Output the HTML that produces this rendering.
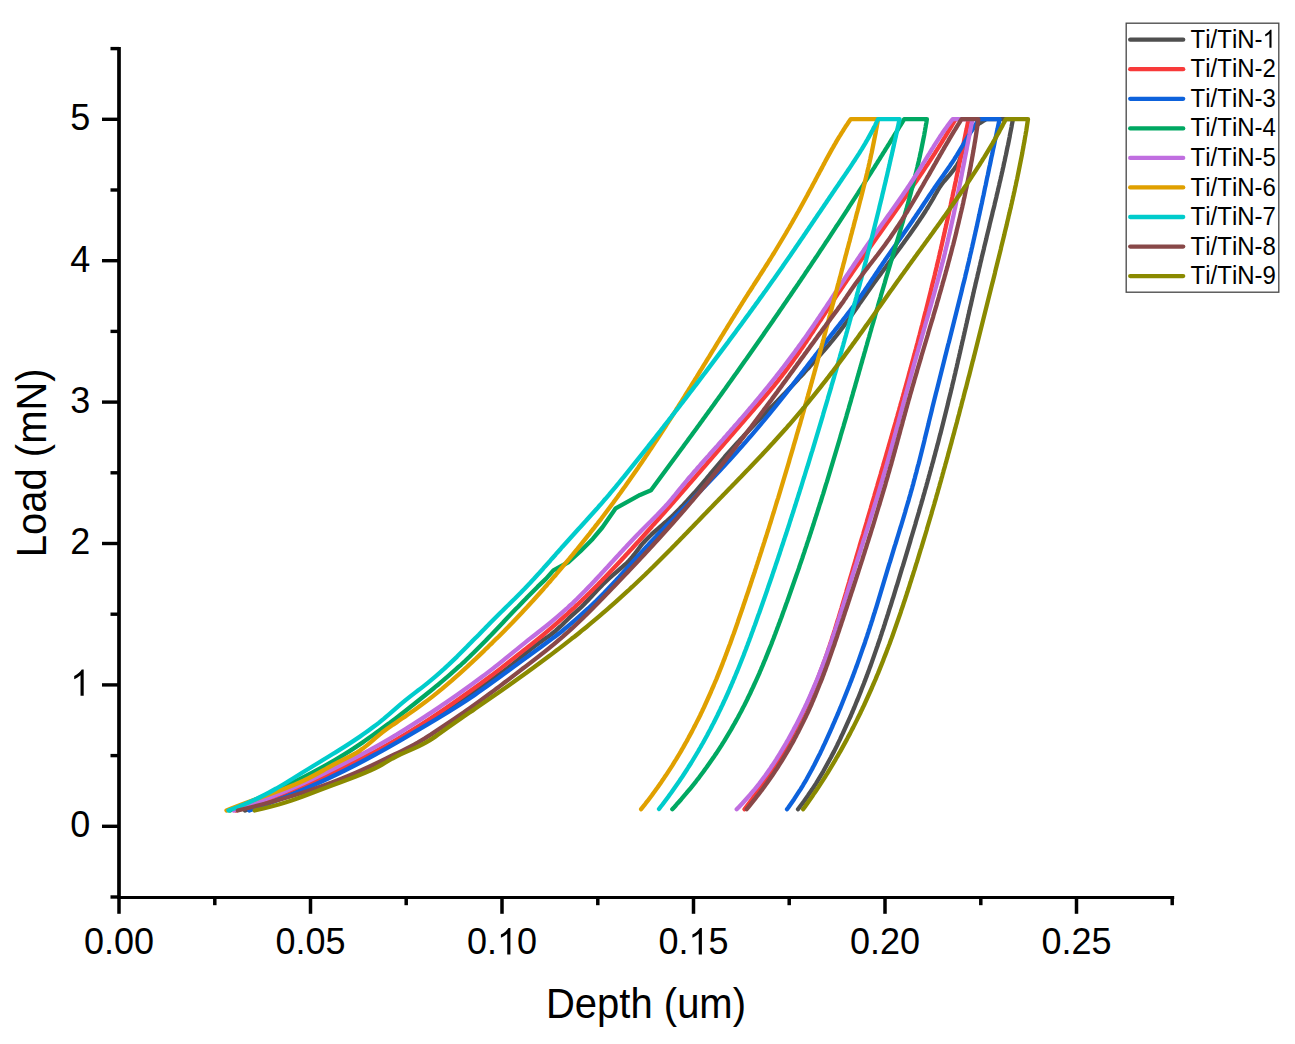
<!DOCTYPE html>
<html><head><meta charset="utf-8"><title>Load-Depth</title>
<style>html,body{margin:0;padding:0;background:#fff;}body{width:1295px;height:1044px;overflow:hidden;font-family:"Liberation Sans",sans-serif;}svg{display:block;}text{font-kerning:none;}</style>
</head><body>
<svg width="1295" height="1044" viewBox="0 0 1295 1044">
<g fill="none" stroke-width="4.3" stroke-linejoin="round" stroke-linecap="round">
<path stroke="#4f4f4f" d="M245.0,810.5 L250.5,808.5 L255.9,806.5 L261.3,804.5 L266.5,802.5 L271.7,800.5 L276.8,798.5 L281.8,796.5 L286.7,794.5 L291.6,792.5 L296.4,790.5 L301.1,788.5 L305.7,786.5 L310.3,784.5 L314.8,782.5 L319.3,780.5 L323.7,778.5 L328.0,776.5 L332.2,774.5 L336.5,772.5 L340.6,770.5 L344.7,768.5 L348.7,766.5 L352.7,764.5 L356.7,762.5 L360.5,760.5 L364.4,758.5 L368.2,756.5 L371.9,754.5 L375.7,752.6 L379.3,750.6 L383.0,748.6 L386.5,746.6 L390.1,744.6 L393.6,742.6 L397.1,740.6 L400.6,738.6 L404.0,736.6 L407.4,734.6 L410.8,732.6 L414.2,730.6 L417.5,728.6 L420.8,726.6 L424.1,724.6 L427.4,722.6 L430.6,720.6 L433.9,718.6 L437.1,716.6 L440.3,714.6 L443.4,712.6 L446.6,710.6 L449.7,708.6 L452.8,706.6 L455.9,704.6 L458.9,702.6 L462.0,700.6 L465.0,698.6 L467.9,696.6 L470.9,694.6 L473.8,692.6 L476.7,690.6 L479.6,688.6 L482.5,686.6 L485.3,684.6 L488.1,682.6 L490.8,680.6 L493.6,678.6 L496.3,676.6 L499.0,674.6 L501.7,672.6 L504.3,670.6 L506.9,668.6 L509.4,666.6 L512.0,664.6 L514.5,662.6 L517.0,660.6 L519.4,658.6 L521.8,656.6 L524.2,654.6 L526.6,652.6 L529.1,650.6 L531.6,648.6 L534.2,646.6 L536.9,644.6 L539.7,642.6 L542.5,640.6 L545.3,638.6 L548.0,636.7 L550.7,634.7 L553.2,632.7 L555.7,630.7 L557.9,628.7 L560.1,626.7 L562.2,624.7 L564.2,622.7 L566.3,620.7 L568.4,618.7 L570.6,616.7 L572.8,614.7 L575.1,612.7 L577.3,610.7 L579.5,608.7 L581.6,606.7 L583.6,604.7 L585.5,602.7 L587.5,600.7 L589.3,598.7 L591.2,596.7 L593.0,594.7 L594.9,592.7 L596.7,590.7 L598.6,588.7 L600.6,586.7 L602.5,584.7 L604.6,582.7 L606.7,580.7 L608.8,578.7 L611.1,576.7 L613.4,574.7 L615.8,572.7 L618.1,570.7 L620.4,568.7 L622.7,566.7 L624.9,564.7 L627.0,562.7 L629.0,560.7 L630.8,558.7 L632.5,556.7 L634.1,554.7 L635.6,552.7 L637.1,550.7 L638.6,548.7 L640.1,546.7 L641.7,544.7 L643.4,542.7 L645.2,540.7 L647.2,538.7 L649.2,536.7 L651.3,534.7 L653.5,532.7 L655.8,530.7 L658.1,528.7 L660.4,526.7 L662.7,524.7 L664.9,522.7 L667.1,520.8 L669.3,518.8 L671.5,516.8 L673.6,514.8 L675.6,512.8 L677.6,510.8 L679.6,508.8 L681.5,506.8 L683.5,504.8 L685.3,502.8 L687.2,500.8 L689.0,498.8 L690.8,496.8 L692.6,494.8 L694.4,492.8 L696.1,490.8 L697.8,488.8 L699.5,486.8 L701.2,484.8 L702.9,482.8 L704.6,480.8 L706.3,478.8 L707.9,476.8 L709.6,474.8 L711.2,472.8 L712.9,470.8 L714.6,468.8 L716.3,466.8 L718.0,464.8 L719.7,462.8 L721.4,460.8 L723.1,458.8 L724.8,456.8 L726.6,454.8 L728.4,452.8 L730.2,450.8 L732.0,448.8 L733.8,446.8 L735.6,444.8 L737.4,442.8 L739.3,440.8 L741.1,438.8 L743.0,436.8 L744.8,434.8 L746.7,432.8 L748.6,430.8 L750.5,428.8 L752.4,426.8 L754.3,424.8 L756.2,422.8 L758.1,420.8 L760.0,418.8 L761.9,416.8 L763.9,414.8 L765.8,412.8 L767.7,410.8 L769.6,408.8 L771.6,406.9 L773.5,404.9 L775.4,402.9 L777.4,400.9 L779.3,398.9 L781.2,396.9 L783.1,394.9 L785.1,392.9 L787.0,390.9 L788.9,388.9 L790.8,386.9 L792.7,384.9 L794.6,382.9 L796.5,380.9 L798.4,378.9 L800.2,376.9 L802.1,374.9 L804.0,372.9 L805.8,370.9 L807.6,368.9 L809.5,366.9 L811.3,364.9 L813.1,362.9 L814.9,360.9 L816.7,358.9 L818.4,356.9 L820.2,354.9 L821.9,352.9 L823.7,350.9 L825.4,348.9 L827.1,346.9 L828.8,344.9 L830.4,342.9 L832.1,340.9 L833.7,338.9 L835.3,336.9 L836.9,334.9 L838.5,332.9 L840.0,330.9 L841.5,328.9 L843.0,326.9 L844.5,324.9 L846.0,322.9 L847.5,320.9 L848.9,318.9 L850.3,316.9 L851.7,314.9 L853.1,312.9 L854.5,310.9 L855.9,308.9 L857.3,306.9 L858.7,304.9 L860.0,302.9 L861.4,300.9 L862.8,298.9 L864.2,296.9 L865.6,294.9 L867.0,292.9 L868.4,291.0 L869.8,289.0 L871.2,287.0 L872.6,285.0 L874.0,283.0 L875.5,281.0 L876.9,279.0 L878.4,277.0 L879.9,275.0 L881.3,273.0 L882.8,271.0 L884.3,269.0 L885.8,267.0 L887.2,265.0 L888.7,263.0 L890.2,261.0 L891.7,259.0 L893.2,257.0 L894.6,255.0 L896.1,253.0 L897.6,251.0 L899.1,249.0 L900.6,247.0 L902.0,245.0 L903.5,243.0 L904.9,241.0 L906.4,239.0 L907.8,237.0 L909.3,235.0 L910.7,233.0 L912.1,231.0 L913.5,229.0 L914.9,227.0 L916.3,225.0 L917.6,223.0 L919.0,221.0 L920.3,219.0 L921.7,217.0 L923.0,215.0 L924.3,213.0 L925.6,211.0 L926.8,209.0 L928.1,207.0 L929.3,205.0 L930.5,203.0 L931.7,201.0 L932.9,199.0 L934.0,197.0 L935.1,195.0 L936.3,193.0 L937.4,191.0 L938.6,189.0 L939.8,187.0 L941.2,185.0 L942.7,183.0 L944.3,181.0 L946.0,179.0 L947.7,177.0 L949.4,175.1 L951.0,173.1 L952.6,171.1 L954.2,169.1 L955.6,167.1 L956.9,165.1 L958.1,163.1 L959.1,161.1 L959.9,159.1 L960.6,157.1 L961.2,155.1 L961.8,153.1 L962.3,151.1 L962.8,149.1 L963.3,147.1 L963.8,145.1 L964.4,143.1 L965.1,141.1 L965.9,139.1 L966.9,137.1 L968.0,135.1 L969.3,133.1 L970.9,131.1 L972.7,129.1 L974.7,127.1 L977.1,125.1 L979.8,123.1 L982.9,121.1 L986.3,119.1 L986.3,119.1 L1012.9,119.1 L1012.9,119.1 L1012.6,121.1 L1012.2,123.1 L1011.8,125.1 L1011.5,127.1 L1011.1,129.1 L1010.7,131.1 L1010.3,133.1 L1009.9,135.1 L1009.6,137.1 L1009.2,139.0 L1008.8,141.0 L1008.4,143.0 L1008.0,145.0 L1007.5,147.0 L1007.1,149.0 L1006.7,151.0 L1006.3,153.0 L1005.9,155.0 L1005.4,157.0 L1005.0,159.0 L1004.6,161.0 L1004.1,163.0 L1003.7,165.0 L1003.3,167.0 L1002.8,169.0 L1002.4,171.0 L1001.9,173.0 L1001.5,174.9 L1001.0,176.9 L1000.6,178.9 L1000.1,180.9 L999.6,182.9 L999.2,184.9 L998.7,186.9 L998.2,188.9 L997.8,190.9 L997.3,192.9 L996.8,194.9 L996.4,196.9 L995.9,198.9 L995.4,200.9 L994.9,202.9 L994.5,204.9 L994.0,206.9 L993.5,208.9 L993.0,210.8 L992.5,212.8 L992.1,214.8 L991.6,216.8 L991.1,218.8 L990.6,220.8 L990.1,222.8 L989.6,224.8 L989.2,226.8 L988.7,228.8 L988.2,230.8 L987.7,232.8 L987.2,234.8 L986.7,236.8 L986.3,238.8 L985.8,240.8 L985.3,242.8 L984.8,244.8 L984.3,246.7 L983.9,248.7 L983.4,250.7 L982.9,252.7 L982.4,254.7 L981.9,256.7 L981.5,258.7 L981.0,260.7 L980.5,262.7 L980.1,264.7 L979.6,266.7 L979.1,268.7 L978.7,270.7 L978.2,272.7 L977.7,274.7 L977.3,276.7 L976.8,278.7 L976.3,280.7 L975.9,282.6 L975.4,284.6 L975.0,286.6 L974.5,288.6 L974.0,290.6 L973.6,292.6 L973.1,294.6 L972.7,296.6 L972.2,298.6 L971.8,300.6 L971.3,302.6 L970.9,304.6 L970.4,306.6 L969.9,308.6 L969.5,310.6 L969.0,312.6 L968.6,314.6 L968.1,316.6 L967.7,318.6 L967.2,320.5 L966.8,322.5 L966.3,324.5 L965.9,326.5 L965.4,328.5 L965.0,330.5 L964.5,332.5 L964.1,334.5 L963.6,336.5 L963.2,338.5 L962.7,340.5 L962.2,342.5 L961.8,344.5 L961.3,346.5 L960.9,348.5 L960.4,350.5 L960.0,352.5 L959.5,354.5 L959.1,356.4 L958.6,358.4 L958.1,360.4 L957.7,362.4 L957.2,364.4 L956.8,366.4 L956.3,368.4 L955.8,370.4 L955.4,372.4 L954.9,374.4 L954.4,376.4 L954.0,378.4 L953.5,380.4 L953.0,382.4 L952.5,384.4 L952.1,386.4 L951.6,388.4 L951.1,390.4 L950.7,392.3 L950.2,394.3 L949.7,396.3 L949.2,398.3 L948.7,400.3 L948.2,402.3 L947.8,404.3 L947.3,406.3 L946.8,408.3 L946.3,410.3 L945.8,412.3 L945.3,414.3 L944.8,416.3 L944.3,418.3 L943.8,420.3 L943.3,422.3 L942.8,424.3 L942.3,426.3 L941.8,428.2 L941.3,430.2 L940.8,432.2 L940.3,434.2 L939.7,436.2 L939.2,438.2 L938.7,440.2 L938.2,442.2 L937.7,444.2 L937.1,446.2 L936.6,448.2 L936.1,450.2 L935.5,452.2 L935.0,454.2 L934.5,456.2 L933.9,458.2 L933.4,460.2 L932.9,462.2 L932.3,464.1 L931.8,466.1 L931.2,468.1 L930.7,470.1 L930.1,472.1 L929.6,474.1 L929.0,476.1 L928.5,478.1 L927.9,480.1 L927.4,482.1 L926.8,484.1 L926.3,486.1 L925.7,488.1 L925.1,490.1 L924.6,492.1 L924.0,494.1 L923.4,496.1 L922.9,498.1 L922.3,500.1 L921.7,502.0 L921.2,504.0 L920.6,506.0 L920.0,508.0 L919.4,510.0 L918.9,512.0 L918.3,514.0 L917.7,516.0 L917.1,518.0 L916.5,520.0 L915.9,522.0 L915.4,524.0 L914.8,526.0 L914.2,528.0 L913.6,530.0 L913.0,532.0 L912.4,534.0 L911.8,536.0 L911.2,537.9 L910.6,539.9 L910.1,541.9 L909.5,543.9 L908.9,545.9 L908.3,547.9 L907.7,549.9 L907.1,551.9 L906.5,553.9 L905.9,555.9 L905.3,557.9 L904.7,559.9 L904.1,561.9 L903.5,563.9 L902.9,565.9 L902.2,567.9 L901.6,569.9 L901.0,571.9 L900.4,573.8 L899.8,575.8 L899.2,577.8 L898.6,579.8 L898.0,581.8 L897.4,583.8 L896.8,585.8 L896.1,587.8 L895.5,589.8 L894.9,591.8 L894.3,593.8 L893.7,595.8 L893.1,597.8 L892.4,599.8 L891.8,601.8 L891.2,603.8 L890.6,605.8 L889.9,607.8 L889.3,609.7 L888.7,611.7 L888.1,613.7 L887.4,615.7 L886.8,617.7 L886.1,619.7 L885.5,621.7 L884.9,623.7 L884.2,625.7 L883.6,627.7 L882.9,629.7 L882.2,631.7 L881.6,633.7 L880.9,635.7 L880.3,637.7 L879.6,639.7 L878.9,641.7 L878.2,643.7 L877.6,645.7 L876.9,647.6 L876.2,649.6 L875.5,651.6 L874.8,653.6 L874.1,655.6 L873.4,657.6 L872.7,659.6 L872.0,661.6 L871.3,663.6 L870.6,665.6 L869.8,667.6 L869.1,669.6 L868.4,671.6 L867.6,673.6 L866.9,675.6 L866.1,677.6 L865.4,679.6 L864.6,681.6 L863.9,683.5 L863.1,685.5 L862.3,687.5 L861.5,689.5 L860.8,691.5 L860.0,693.5 L859.2,695.5 L858.4,697.5 L857.6,699.5 L856.7,701.5 L855.9,703.5 L855.1,705.5 L854.3,707.5 L853.4,709.5 L852.6,711.5 L851.7,713.5 L850.9,715.5 L850.0,717.5 L849.1,719.4 L848.2,721.4 L847.3,723.4 L846.4,725.4 L845.5,727.4 L844.6,729.4 L843.7,731.4 L842.8,733.4 L841.8,735.4 L840.9,737.4 L840.0,739.4 L839.0,741.4 L838.0,743.4 L837.1,745.4 L836.1,747.4 L835.1,749.4 L834.1,751.4 L833.0,753.4 L832.0,755.3 L831.0,757.3 L829.9,759.3 L828.8,761.3 L827.7,763.3 L826.6,765.3 L825.5,767.3 L824.4,769.3 L823.3,771.3 L822.1,773.3 L820.9,775.3 L819.7,777.3 L818.5,779.3 L817.3,781.3 L816.1,783.3 L814.8,785.3 L813.5,787.3 L812.2,789.3 L810.9,791.2 L809.5,793.2 L808.2,795.2 L806.8,797.2 L805.4,799.2 L804.0,801.2 L802.5,803.2 L801.0,805.2 L799.5,807.2 L798.0,809.2"/>
<path stroke="#f83a3a" d="M236.0,810.5 L241.9,808.5 L247.6,806.5 L253.3,804.5 L258.9,802.5 L264.4,800.5 L269.8,798.5 L275.1,796.5 L280.4,794.5 L285.5,792.5 L290.6,790.5 L295.6,788.5 L300.5,786.5 L305.3,784.5 L310.1,782.5 L314.8,780.5 L319.4,778.5 L323.9,776.5 L328.4,774.5 L332.8,772.5 L337.1,770.5 L341.3,768.5 L345.5,766.5 L349.7,764.5 L353.7,762.5 L357.7,760.5 L361.7,758.5 L365.6,756.5 L369.4,754.5 L373.2,752.6 L376.9,750.6 L380.6,748.6 L384.2,746.6 L387.8,744.6 L391.3,742.6 L394.8,740.6 L398.2,738.6 L401.6,736.6 L404.9,734.6 L408.2,732.6 L411.5,730.6 L414.7,728.6 L417.9,726.6 L421.1,724.6 L424.2,722.6 L427.3,720.6 L430.4,718.6 L433.4,716.6 L436.4,714.6 L439.4,712.6 L442.4,710.6 L445.3,708.6 L448.2,706.6 L451.1,704.6 L454.0,702.6 L456.8,700.6 L459.7,698.6 L462.5,696.6 L465.3,694.6 L468.2,692.6 L470.9,690.6 L473.7,688.6 L476.5,686.6 L479.3,684.6 L482.0,682.6 L484.7,680.6 L487.4,678.6 L490.1,676.6 L492.7,674.6 L495.3,672.6 L497.9,670.6 L500.5,668.6 L503.0,666.6 L505.6,664.6 L508.1,662.6 L510.6,660.6 L513.2,658.6 L515.7,656.6 L518.2,654.6 L520.8,652.6 L523.3,650.6 L525.9,648.6 L528.4,646.6 L531.0,644.6 L533.5,642.6 L536.0,640.6 L538.5,638.6 L540.9,636.7 L543.4,634.7 L545.8,632.7 L548.2,630.7 L550.5,628.7 L552.9,626.7 L555.2,624.7 L557.5,622.7 L559.7,620.7 L562.0,618.7 L564.2,616.7 L566.5,614.7 L568.6,612.7 L570.8,610.7 L573.0,608.7 L575.1,606.7 L577.3,604.7 L579.4,602.7 L581.5,600.7 L583.5,598.7 L585.6,596.7 L587.6,594.7 L589.7,592.7 L591.7,590.7 L593.7,588.7 L595.7,586.7 L597.7,584.7 L599.6,582.7 L601.6,580.7 L603.5,578.7 L605.5,576.7 L607.4,574.7 L609.3,572.7 L611.2,570.7 L613.1,568.7 L615.0,566.7 L616.9,564.7 L618.8,562.7 L620.7,560.7 L622.5,558.7 L624.4,556.7 L626.2,554.7 L628.1,552.7 L629.9,550.7 L631.8,548.7 L633.6,546.7 L635.4,544.7 L637.2,542.7 L639.1,540.7 L640.9,538.7 L642.7,536.7 L644.5,534.7 L646.3,532.7 L648.1,530.7 L649.9,528.7 L651.7,526.7 L653.4,524.7 L655.2,522.7 L657.0,520.8 L658.8,518.8 L660.5,516.8 L662.3,514.8 L664.1,512.8 L665.8,510.8 L667.6,508.8 L669.4,506.8 L671.1,504.8 L672.9,502.8 L674.6,500.8 L676.4,498.8 L678.1,496.8 L679.8,494.8 L681.6,492.8 L683.3,490.8 L685.1,488.8 L686.8,486.8 L688.5,484.8 L690.3,482.8 L692.0,480.8 L693.8,478.8 L695.5,476.8 L697.2,474.8 L699.0,472.8 L700.7,470.8 L702.4,468.8 L704.2,466.8 L705.9,464.8 L707.6,462.8 L709.4,460.8 L711.1,458.8 L712.8,456.8 L714.6,454.8 L716.3,452.8 L718.0,450.8 L719.7,448.8 L721.5,446.8 L723.2,444.8 L724.9,442.8 L726.7,440.8 L728.4,438.8 L730.1,436.8 L731.9,434.8 L733.6,432.8 L735.3,430.8 L737.1,428.8 L738.8,426.8 L740.5,424.8 L742.3,422.8 L744.0,420.8 L745.7,418.8 L747.5,416.8 L749.2,414.8 L750.9,412.8 L752.7,410.8 L754.4,408.8 L756.1,406.9 L757.9,404.9 L759.6,402.9 L761.3,400.9 L763.0,398.9 L764.7,396.9 L766.4,394.9 L768.1,392.9 L769.8,390.9 L771.4,388.9 L773.1,386.9 L774.7,384.9 L776.3,382.9 L777.9,380.9 L779.4,378.9 L781.0,376.9 L782.5,374.9 L784.1,372.9 L785.6,370.9 L787.1,368.9 L788.5,366.9 L790.0,364.9 L791.5,362.9 L792.9,360.9 L794.3,358.9 L795.8,356.9 L797.2,354.9 L798.6,352.9 L800.0,350.9 L801.3,348.9 L802.7,346.9 L804.1,344.9 L805.4,342.9 L806.8,340.9 L808.1,338.9 L809.5,336.9 L810.8,334.9 L812.1,332.9 L813.5,330.9 L814.8,328.9 L816.1,326.9 L817.4,324.9 L818.7,322.9 L820.0,320.9 L821.4,318.9 L822.7,316.9 L824.0,314.9 L825.3,312.9 L826.6,310.9 L827.9,308.9 L829.2,306.9 L830.5,304.9 L831.8,302.9 L833.1,300.9 L834.5,298.9 L835.8,296.9 L837.1,294.9 L838.4,292.9 L839.8,291.0 L841.1,289.0 L842.5,287.0 L843.8,285.0 L845.2,283.0 L846.5,281.0 L847.9,279.0 L849.3,277.0 L850.7,275.0 L852.0,273.0 L853.4,271.0 L854.8,269.0 L856.2,267.0 L857.6,265.0 L859.0,263.0 L860.4,261.0 L861.8,259.0 L863.2,257.0 L864.6,255.0 L866.0,253.0 L867.4,251.0 L868.8,249.0 L870.2,247.0 L871.6,245.0 L873.0,243.0 L874.4,241.0 L875.8,239.0 L877.2,237.0 L878.7,235.0 L880.1,233.0 L881.5,231.0 L882.9,229.0 L884.3,227.0 L885.7,225.0 L887.1,223.0 L888.6,221.0 L890.0,219.0 L891.4,217.0 L892.8,215.0 L894.2,213.0 L895.6,211.0 L897.0,209.0 L898.4,207.0 L899.8,205.0 L901.2,203.0 L902.6,201.0 L904.0,199.0 L905.4,197.0 L906.8,195.0 L908.1,193.0 L909.5,191.0 L910.9,189.0 L912.3,187.0 L913.6,185.0 L915.0,183.0 L916.4,181.0 L917.7,179.0 L919.1,177.0 L920.4,175.1 L921.8,173.1 L923.1,171.1 L924.4,169.1 L925.7,167.1 L927.1,165.1 L928.4,163.1 L929.7,161.1 L931.0,159.1 L932.3,157.1 L933.6,155.1 L934.9,153.1 L936.1,151.1 L937.4,149.1 L938.7,147.1 L939.9,145.1 L941.2,143.1 L942.4,141.1 L943.6,139.1 L944.9,137.1 L946.1,135.1 L947.3,133.1 L948.5,131.1 L949.7,129.1 L950.9,127.1 L952.0,125.1 L953.2,123.1 L954.4,121.1 L955.5,119.1 L955.5,119.1 L968.6,119.1 L968.6,119.1 L968.2,121.1 L967.8,123.1 L967.4,125.1 L967.0,127.1 L966.6,129.1 L966.1,131.1 L965.7,133.1 L965.3,135.1 L964.9,137.1 L964.5,139.0 L964.1,141.0 L963.7,143.0 L963.3,145.0 L962.8,147.0 L962.4,149.0 L962.0,151.0 L961.6,153.0 L961.2,155.0 L960.8,157.0 L960.4,159.0 L959.9,161.0 L959.5,163.0 L959.1,165.0 L958.7,167.0 L958.3,169.0 L957.9,171.0 L957.4,173.0 L957.0,174.9 L956.6,176.9 L956.2,178.9 L955.8,180.9 L955.3,182.9 L954.9,184.9 L954.5,186.9 L954.1,188.9 L953.6,190.9 L953.2,192.9 L952.8,194.9 L952.4,196.9 L951.9,198.9 L951.5,200.9 L951.1,202.9 L950.7,204.9 L950.2,206.9 L949.8,208.9 L949.4,210.8 L948.9,212.8 L948.5,214.8 L948.0,216.8 L947.6,218.8 L947.2,220.8 L946.7,222.8 L946.3,224.8 L945.8,226.8 L945.4,228.8 L944.9,230.8 L944.5,232.8 L944.0,234.8 L943.6,236.8 L943.1,238.8 L942.7,240.8 L942.2,242.8 L941.8,244.8 L941.3,246.7 L940.9,248.7 L940.4,250.7 L939.9,252.7 L939.5,254.7 L939.0,256.7 L938.6,258.7 L938.1,260.7 L937.6,262.7 L937.1,264.7 L936.7,266.7 L936.2,268.7 L935.7,270.7 L935.2,272.7 L934.8,274.7 L934.3,276.7 L933.8,278.7 L933.3,280.7 L932.8,282.6 L932.3,284.6 L931.8,286.6 L931.4,288.6 L930.9,290.6 L930.4,292.6 L929.9,294.6 L929.4,296.6 L928.9,298.6 L928.4,300.6 L927.9,302.6 L927.4,304.6 L926.9,306.6 L926.4,308.6 L925.9,310.6 L925.3,312.6 L924.8,314.6 L924.3,316.6 L923.8,318.6 L923.3,320.5 L922.8,322.5 L922.3,324.5 L921.7,326.5 L921.2,328.5 L920.7,330.5 L920.2,332.5 L919.7,334.5 L919.1,336.5 L918.6,338.5 L918.1,340.5 L917.6,342.5 L917.0,344.5 L916.5,346.5 L916.0,348.5 L915.4,350.5 L914.9,352.5 L914.4,354.5 L913.8,356.4 L913.3,358.4 L912.8,360.4 L912.2,362.4 L911.7,364.4 L911.1,366.4 L910.6,368.4 L910.0,370.4 L909.5,372.4 L908.9,374.4 L908.4,376.4 L907.9,378.4 L907.3,380.4 L906.8,382.4 L906.2,384.4 L905.7,386.4 L905.1,388.4 L904.5,390.4 L904.0,392.3 L903.4,394.3 L902.9,396.3 L902.3,398.3 L901.8,400.3 L901.2,402.3 L900.6,404.3 L900.1,406.3 L899.5,408.3 L899.0,410.3 L898.4,412.3 L897.8,414.3 L897.3,416.3 L896.7,418.3 L896.1,420.3 L895.6,422.3 L895.0,424.3 L894.4,426.3 L893.9,428.2 L893.3,430.2 L892.7,432.2 L892.2,434.2 L891.6,436.2 L891.0,438.2 L890.5,440.2 L889.9,442.2 L889.3,444.2 L888.7,446.2 L888.2,448.2 L887.6,450.2 L887.0,452.2 L886.4,454.2 L885.9,456.2 L885.3,458.2 L884.7,460.2 L884.1,462.2 L883.5,464.1 L883.0,466.1 L882.4,468.1 L881.8,470.1 L881.2,472.1 L880.7,474.1 L880.1,476.1 L879.5,478.1 L878.9,480.1 L878.3,482.1 L877.7,484.1 L877.2,486.1 L876.6,488.1 L876.0,490.1 L875.4,492.1 L874.8,494.1 L874.3,496.1 L873.7,498.1 L873.1,500.1 L872.5,502.0 L871.9,504.0 L871.3,506.0 L870.8,508.0 L870.2,510.0 L869.6,512.0 L869.0,514.0 L868.4,516.0 L867.8,518.0 L867.2,520.0 L866.7,522.0 L866.1,524.0 L865.5,526.0 L864.9,528.0 L864.3,530.0 L863.7,532.0 L863.2,534.0 L862.6,536.0 L862.0,537.9 L861.4,539.9 L860.8,541.9 L860.2,543.9 L859.6,545.9 L859.1,547.9 L858.5,549.9 L857.9,551.9 L857.3,553.9 L856.7,555.9 L856.1,557.9 L855.6,559.9 L855.0,561.9 L854.4,563.9 L853.8,565.9 L853.2,567.9 L852.6,569.9 L852.1,571.9 L851.5,573.8 L850.9,575.8 L850.3,577.8 L849.7,579.8 L849.2,581.8 L848.6,583.8 L848.0,585.8 L847.4,587.8 L846.8,589.8 L846.3,591.8 L845.7,593.8 L845.1,595.8 L844.5,597.8 L843.9,599.8 L843.3,601.8 L842.7,603.8 L842.1,605.8 L841.6,607.8 L841.0,609.7 L840.4,611.7 L839.8,613.7 L839.2,615.7 L838.6,617.7 L837.9,619.7 L837.3,621.7 L836.7,623.7 L836.1,625.7 L835.5,627.7 L834.9,629.7 L834.2,631.7 L833.6,633.7 L832.9,635.7 L832.3,637.7 L831.7,639.7 L831.0,641.7 L830.3,643.7 L829.7,645.7 L829.0,647.6 L828.3,649.6 L827.7,651.6 L827.0,653.6 L826.3,655.6 L825.6,657.6 L824.9,659.6 L824.2,661.6 L823.4,663.6 L822.7,665.6 L822.0,667.6 L821.2,669.6 L820.5,671.6 L819.7,673.6 L819.0,675.6 L818.2,677.6 L817.4,679.6 L816.6,681.6 L815.8,683.5 L815.0,685.5 L814.2,687.5 L813.4,689.5 L812.6,691.5 L811.7,693.5 L810.9,695.5 L810.0,697.5 L809.2,699.5 L808.3,701.5 L807.4,703.5 L806.5,705.5 L805.6,707.5 L804.7,709.5 L803.8,711.5 L802.9,713.5 L801.9,715.5 L801.0,717.5 L800.0,719.4 L799.0,721.4 L798.1,723.4 L797.1,725.4 L796.1,727.4 L795.1,729.4 L794.0,731.4 L793.0,733.4 L792.0,735.4 L790.9,737.4 L789.8,739.4 L788.7,741.4 L787.7,743.4 L786.5,745.4 L785.4,747.4 L784.3,749.4 L783.2,751.4 L782.0,753.4 L780.9,755.3 L779.7,757.3 L778.5,759.3 L777.3,761.3 L776.1,763.3 L774.8,765.3 L773.6,767.3 L772.4,769.3 L771.1,771.3 L769.8,773.3 L768.5,775.3 L767.2,777.3 L765.9,779.3 L764.6,781.3 L763.2,783.3 L761.9,785.3 L760.5,787.3 L759.1,789.3 L757.7,791.2 L756.3,793.2 L754.9,795.2 L753.4,797.2 L752.0,799.2 L750.5,801.2 L749.0,803.2 L747.5,805.2 L746.0,807.2 L744.5,809.2"/>
<path stroke="#0d62dc" d="M249.3,810.5 L254.9,808.5 L260.5,806.5 L265.9,804.5 L271.2,802.5 L276.4,800.5 L281.5,798.5 L286.6,796.5 L291.5,794.5 L296.4,792.5 L301.1,790.5 L305.8,788.5 L310.4,786.5 L314.9,784.5 L319.4,782.5 L323.8,780.5 L328.1,778.5 L332.3,776.5 L336.5,774.5 L340.6,772.5 L344.7,770.5 L348.6,768.5 L352.6,766.5 L356.5,764.5 L360.3,762.5 L364.1,760.5 L367.8,758.5 L371.5,756.5 L375.2,754.5 L378.8,752.6 L382.4,750.6 L386.0,748.6 L389.5,746.6 L393.0,744.6 L396.5,742.6 L400.0,740.6 L403.4,738.6 L406.8,736.6 L410.2,734.6 L413.6,732.6 L417.0,730.6 L420.4,728.6 L423.8,726.6 L427.2,724.6 L430.5,722.6 L433.9,720.6 L437.2,718.6 L440.5,716.6 L443.8,714.6 L447.1,712.6 L450.3,710.6 L453.5,708.6 L456.7,706.6 L459.9,704.6 L463.0,702.6 L466.1,700.6 L469.1,698.6 L472.1,696.6 L475.1,694.6 L478.0,692.6 L480.9,690.6 L483.7,688.6 L486.6,686.6 L489.4,684.6 L492.1,682.6 L494.9,680.6 L497.7,678.6 L500.4,676.6 L503.1,674.6 L505.9,672.6 L508.6,670.6 L511.3,668.6 L514.0,666.6 L516.8,664.6 L519.5,662.6 L522.2,660.6 L525.0,658.6 L527.8,656.6 L530.5,654.6 L533.3,652.6 L536.0,650.6 L538.8,648.6 L541.5,646.6 L544.2,644.6 L546.9,642.6 L549.6,640.6 L552.2,638.6 L554.8,636.7 L557.4,634.7 L560.0,632.7 L562.5,630.7 L564.9,628.7 L567.4,626.7 L569.8,624.7 L572.1,622.7 L574.5,620.7 L576.8,618.7 L579.1,616.7 L581.3,614.7 L583.5,612.7 L585.7,610.7 L587.9,608.7 L590.0,606.7 L592.1,604.7 L594.2,602.7 L596.3,600.7 L598.3,598.7 L600.3,596.7 L602.3,594.7 L604.3,592.7 L606.2,590.7 L608.1,588.7 L610.0,586.7 L611.9,584.7 L613.8,582.7 L615.7,580.7 L617.5,578.7 L619.4,576.7 L621.2,574.7 L623.0,572.7 L624.8,570.7 L626.6,568.7 L628.4,566.7 L630.2,564.7 L632.0,562.7 L633.8,560.7 L635.6,558.7 L637.4,556.7 L639.2,554.7 L641.0,552.7 L642.9,550.7 L644.7,548.7 L646.5,546.7 L648.4,544.7 L650.2,542.7 L652.1,540.7 L654.0,538.7 L655.9,536.7 L657.7,534.7 L659.6,532.7 L661.5,530.7 L663.5,528.7 L665.4,526.7 L667.3,524.7 L669.2,522.7 L671.2,520.8 L673.1,518.8 L675.1,516.8 L677.0,514.8 L679.0,512.8 L681.0,510.8 L682.9,508.8 L684.9,506.8 L686.9,504.8 L688.8,502.8 L690.8,500.8 L692.8,498.8 L694.7,496.8 L696.7,494.8 L698.6,492.8 L700.6,490.8 L702.5,488.8 L704.5,486.8 L706.4,484.8 L708.3,482.8 L710.2,480.8 L712.1,478.8 L714.0,476.8 L715.9,474.8 L717.8,472.8 L719.7,470.8 L721.5,468.8 L723.4,466.8 L725.2,464.8 L727.0,462.8 L728.9,460.8 L730.7,458.8 L732.5,456.8 L734.3,454.8 L736.1,452.8 L737.8,450.8 L739.6,448.8 L741.4,446.8 L743.1,444.8 L744.9,442.8 L746.6,440.8 L748.3,438.8 L750.1,436.8 L751.8,434.8 L753.5,432.8 L755.2,430.8 L756.9,428.8 L758.6,426.8 L760.3,424.8 L761.9,422.8 L763.6,420.8 L765.3,418.8 L766.9,416.8 L768.6,414.8 L770.2,412.8 L771.8,410.8 L773.5,408.8 L775.1,406.9 L776.7,404.9 L778.3,402.9 L779.9,400.9 L781.5,398.9 L783.1,396.9 L784.7,394.9 L786.3,392.9 L787.8,390.9 L789.4,388.9 L791.0,386.9 L792.6,384.9 L794.1,382.9 L795.7,380.9 L797.2,378.9 L798.8,376.9 L800.4,374.9 L801.9,372.9 L803.5,370.9 L805.0,368.9 L806.6,366.9 L808.1,364.9 L809.6,362.9 L811.2,360.9 L812.7,358.9 L814.3,356.9 L815.8,354.9 L817.4,352.9 L818.9,350.9 L820.5,348.9 L822.0,346.9 L823.6,344.9 L825.1,342.9 L826.7,340.9 L828.2,338.9 L829.8,336.9 L831.3,334.9 L832.9,332.9 L834.5,330.9 L836.0,328.9 L837.6,326.9 L839.2,324.9 L840.7,322.9 L842.3,320.9 L843.8,318.9 L845.4,316.9 L846.9,314.9 L848.4,312.9 L850.0,310.9 L851.5,308.9 L853.0,306.9 L854.4,304.9 L855.9,302.9 L857.4,300.9 L858.8,298.9 L860.2,296.9 L861.6,294.9 L863.0,292.9 L864.4,291.0 L865.7,289.0 L867.1,287.0 L868.4,285.0 L869.8,283.0 L871.1,281.0 L872.4,279.0 L873.8,277.0 L875.1,275.0 L876.4,273.0 L877.8,271.0 L879.1,269.0 L880.4,267.0 L881.8,265.0 L883.1,263.0 L884.5,261.0 L885.8,259.0 L887.2,257.0 L888.6,255.0 L890.0,253.0 L891.4,251.0 L892.8,249.0 L894.2,247.0 L895.6,245.0 L897.0,243.0 L898.4,241.0 L899.8,239.0 L901.2,237.0 L902.6,235.0 L904.0,233.0 L905.4,231.0 L906.8,229.0 L908.2,227.0 L909.6,225.0 L911.0,223.0 L912.4,221.0 L913.7,219.0 L915.1,217.0 L916.4,215.0 L917.8,213.0 L919.1,211.0 L920.5,209.0 L921.8,207.0 L923.1,205.0 L924.4,203.0 L925.8,201.0 L927.1,199.0 L928.4,197.0 L929.7,195.0 L931.1,193.0 L932.4,191.0 L933.8,189.0 L935.1,187.0 L936.5,185.0 L937.9,183.0 L939.3,181.0 L940.7,179.0 L942.1,177.0 L943.5,175.1 L944.9,173.1 L946.3,171.1 L947.7,169.1 L949.1,167.1 L950.4,165.1 L951.8,163.1 L953.1,161.1 L954.4,159.1 L955.6,157.1 L956.9,155.1 L958.1,153.1 L959.3,151.1 L960.5,149.1 L961.7,147.1 L962.9,145.1 L964.1,143.1 L965.3,141.1 L966.5,139.1 L967.7,137.1 L968.9,135.1 L970.1,133.1 L971.4,131.1 L972.6,129.1 L973.9,127.1 L975.2,125.1 L976.5,123.1 L977.9,121.1 L979.3,119.1 L979.3,119.1 L999.6,119.1 L999.6,119.1 L999.2,121.1 L998.8,123.1 L998.3,125.1 L997.9,127.1 L997.5,129.1 L997.0,131.1 L996.6,133.1 L996.2,135.1 L995.8,137.1 L995.3,139.0 L994.9,141.0 L994.5,143.0 L994.1,145.0 L993.7,147.0 L993.2,149.0 L992.8,151.0 L992.4,153.0 L992.0,155.0 L991.5,157.0 L991.1,159.0 L990.7,161.0 L990.3,163.0 L989.9,165.0 L989.4,167.0 L989.0,169.0 L988.6,171.0 L988.2,173.0 L987.8,174.9 L987.3,176.9 L986.9,178.9 L986.5,180.9 L986.1,182.9 L985.7,184.9 L985.2,186.9 L984.8,188.9 L984.4,190.9 L984.0,192.9 L983.6,194.9 L983.1,196.9 L982.7,198.9 L982.3,200.9 L981.9,202.9 L981.4,204.9 L981.0,206.9 L980.6,208.9 L980.1,210.8 L979.7,212.8 L979.3,214.8 L978.8,216.8 L978.4,218.8 L978.0,220.8 L977.5,222.8 L977.1,224.8 L976.7,226.8 L976.2,228.8 L975.8,230.8 L975.3,232.8 L974.9,234.8 L974.4,236.8 L974.0,238.8 L973.5,240.8 L973.1,242.8 L972.6,244.8 L972.2,246.7 L971.7,248.7 L971.3,250.7 L970.8,252.7 L970.3,254.7 L969.9,256.7 L969.4,258.7 L969.0,260.7 L968.5,262.7 L968.0,264.7 L967.5,266.7 L967.1,268.7 L966.6,270.7 L966.1,272.7 L965.6,274.7 L965.2,276.7 L964.7,278.7 L964.2,280.7 L963.7,282.6 L963.2,284.6 L962.7,286.6 L962.2,288.6 L961.8,290.6 L961.3,292.6 L960.8,294.6 L960.3,296.6 L959.8,298.6 L959.3,300.6 L958.8,302.6 L958.3,304.6 L957.8,306.6 L957.3,308.6 L956.8,310.6 L956.3,312.6 L955.8,314.6 L955.3,316.6 L954.8,318.6 L954.3,320.5 L953.8,322.5 L953.3,324.5 L952.8,326.5 L952.3,328.5 L951.8,330.5 L951.3,332.5 L950.8,334.5 L950.3,336.5 L949.8,338.5 L949.3,340.5 L948.8,342.5 L948.2,344.5 L947.7,346.5 L947.2,348.5 L946.7,350.5 L946.2,352.5 L945.7,354.5 L945.2,356.4 L944.7,358.4 L944.2,360.4 L943.7,362.4 L943.2,364.4 L942.7,366.4 L942.2,368.4 L941.7,370.4 L941.2,372.4 L940.7,374.4 L940.2,376.4 L939.7,378.4 L939.2,380.4 L938.7,382.4 L938.2,384.4 L937.7,386.4 L937.2,388.4 L936.7,390.4 L936.2,392.3 L935.7,394.3 L935.2,396.3 L934.7,398.3 L934.2,400.3 L933.7,402.3 L933.2,404.3 L932.7,406.3 L932.2,408.3 L931.8,410.3 L931.3,412.3 L930.8,414.3 L930.3,416.3 L929.8,418.3 L929.3,420.3 L928.8,422.3 L928.4,424.3 L927.9,426.3 L927.4,428.2 L926.9,430.2 L926.4,432.2 L925.9,434.2 L925.4,436.2 L924.9,438.2 L924.5,440.2 L924.0,442.2 L923.5,444.2 L923.0,446.2 L922.5,448.2 L922.0,450.2 L921.5,452.2 L921.0,454.2 L920.5,456.2 L920.0,458.2 L919.5,460.2 L919.0,462.2 L918.5,464.1 L917.9,466.1 L917.4,468.1 L916.9,470.1 L916.4,472.1 L915.8,474.1 L915.3,476.1 L914.8,478.1 L914.2,480.1 L913.7,482.1 L913.2,484.1 L912.6,486.1 L912.1,488.1 L911.5,490.1 L910.9,492.1 L910.4,494.1 L909.8,496.1 L909.2,498.1 L908.7,500.1 L908.1,502.0 L907.5,504.0 L906.9,506.0 L906.3,508.0 L905.7,510.0 L905.2,512.0 L904.6,514.0 L904.0,516.0 L903.4,518.0 L902.8,520.0 L902.2,522.0 L901.6,524.0 L901.0,526.0 L900.3,528.0 L899.7,530.0 L899.1,532.0 L898.5,534.0 L897.9,536.0 L897.3,537.9 L896.7,539.9 L896.1,541.9 L895.5,543.9 L894.8,545.9 L894.2,547.9 L893.6,549.9 L893.0,551.9 L892.4,553.9 L891.8,555.9 L891.2,557.9 L890.6,559.9 L890.0,561.9 L889.3,563.9 L888.7,565.9 L888.1,567.9 L887.5,569.9 L886.9,571.9 L886.3,573.8 L885.7,575.8 L885.1,577.8 L884.5,579.8 L883.9,581.8 L883.3,583.8 L882.7,585.8 L882.1,587.8 L881.5,589.8 L880.9,591.8 L880.3,593.8 L879.7,595.8 L879.1,597.8 L878.5,599.8 L877.9,601.8 L877.3,603.8 L876.7,605.8 L876.1,607.8 L875.5,609.7 L874.9,611.7 L874.2,613.7 L873.6,615.7 L873.0,617.7 L872.4,619.7 L871.7,621.7 L871.1,623.7 L870.4,625.7 L869.8,627.7 L869.1,629.7 L868.5,631.7 L867.8,633.7 L867.2,635.7 L866.5,637.7 L865.8,639.7 L865.2,641.7 L864.5,643.7 L863.8,645.7 L863.1,647.6 L862.4,649.6 L861.7,651.6 L861.0,653.6 L860.3,655.6 L859.6,657.6 L858.9,659.6 L858.2,661.6 L857.5,663.6 L856.8,665.6 L856.0,667.6 L855.3,669.6 L854.6,671.6 L853.8,673.6 L853.1,675.6 L852.3,677.6 L851.6,679.6 L850.8,681.6 L850.0,683.5 L849.3,685.5 L848.5,687.5 L847.7,689.5 L846.9,691.5 L846.1,693.5 L845.3,695.5 L844.5,697.5 L843.7,699.5 L842.9,701.5 L842.1,703.5 L841.3,705.5 L840.5,707.5 L839.6,709.5 L838.8,711.5 L838.0,713.5 L837.1,715.5 L836.3,717.5 L835.4,719.4 L834.6,721.4 L833.7,723.4 L832.8,725.4 L832.0,727.4 L831.1,729.4 L830.2,731.4 L829.3,733.4 L828.4,735.4 L827.5,737.4 L826.6,739.4 L825.7,741.4 L824.8,743.4 L823.8,745.4 L822.9,747.4 L822.0,749.4 L821.0,751.4 L820.1,753.4 L819.1,755.3 L818.1,757.3 L817.1,759.3 L816.1,761.3 L815.1,763.3 L814.1,765.3 L813.0,767.3 L812.0,769.3 L810.9,771.3 L809.8,773.3 L808.7,775.3 L807.6,777.3 L806.5,779.3 L805.3,781.3 L804.1,783.3 L803.0,785.3 L801.7,787.3 L800.5,789.3 L799.3,791.2 L798.0,793.2 L796.7,795.2 L795.4,797.2 L794.1,799.2 L792.7,801.2 L791.3,803.2 L789.9,805.2 L788.5,807.2 L787.0,809.2"/>
<path stroke="#00a862" d="M230.0,810.5 L234.8,808.5 L239.5,806.5 L244.2,804.5 L248.9,802.5 L253.5,800.5 L258.0,798.5 L262.5,796.5 L266.9,794.5 L271.3,792.5 L275.7,790.5 L279.9,788.5 L284.2,786.5 L288.3,784.5 L292.4,782.5 L296.5,780.6 L300.5,778.6 L304.5,776.6 L308.3,774.6 L312.2,772.6 L315.9,770.6 L319.6,768.6 L323.3,766.6 L326.9,764.6 L330.4,762.6 L333.9,760.6 L337.3,758.6 L340.6,756.6 L343.9,754.6 L347.1,752.6 L350.3,750.6 L353.4,748.6 L356.4,746.6 L359.4,744.6 L362.4,742.6 L365.3,740.6 L368.1,738.6 L371.0,736.6 L373.8,734.6 L376.5,732.6 L379.3,730.6 L382.0,728.6 L384.7,726.6 L387.4,724.6 L390.0,722.7 L392.6,720.7 L395.3,718.7 L397.9,716.7 L400.4,714.7 L403.0,712.7 L405.6,710.7 L408.1,708.7 L410.6,706.7 L413.2,704.7 L415.7,702.7 L418.2,700.7 L420.7,698.7 L423.2,696.7 L425.7,694.7 L428.2,692.7 L430.7,690.7 L433.2,688.7 L435.6,686.7 L438.1,684.7 L440.5,682.7 L442.9,680.7 L445.2,678.7 L447.6,676.7 L449.9,674.7 L452.1,672.7 L454.4,670.7 L456.6,668.7 L458.8,666.7 L461.0,664.8 L463.1,662.8 L465.3,660.8 L467.4,658.8 L469.5,656.8 L471.5,654.8 L473.6,652.8 L475.6,650.8 L477.6,648.8 L479.6,646.8 L481.6,644.8 L483.6,642.8 L485.6,640.8 L487.5,638.8 L489.4,636.8 L491.4,634.8 L493.3,632.8 L495.2,630.8 L497.1,628.8 L499.0,626.8 L500.9,624.8 L502.8,622.8 L504.6,620.8 L506.5,618.8 L508.4,616.8 L510.3,614.8 L512.2,612.8 L514.1,610.8 L516.0,608.8 L517.9,606.9 L519.8,604.9 L521.7,602.9 L523.6,600.9 L525.6,598.9 L527.5,596.9 L529.5,594.9 L531.5,592.9 L533.5,590.9 L535.5,588.9 L537.5,586.9 L539.6,584.9 L541.7,582.9 L543.8,580.9 L545.9,578.9 L553.4,570.4 L568.7,562.0 L580.2,551.4 L592.7,538.9 L602.3,527.5 L615.7,508.3 L640.0,494.9 L651.0,490.3 L674.0,459.0 L675.5,457.0 L677.0,455.0 L678.4,453.0 L679.9,451.0 L681.4,449.0 L682.9,447.0 L684.3,445.0 L685.8,443.0 L687.3,441.0 L688.7,439.0 L690.2,437.0 L691.7,435.0 L693.1,433.0 L694.6,431.0 L696.1,429.0 L697.5,427.0 L699.0,425.0 L700.4,423.0 L701.9,421.0 L703.3,419.0 L704.8,417.0 L706.2,415.0 L707.7,413.0 L709.1,411.0 L710.6,409.0 L712.0,407.0 L713.5,405.0 L714.9,403.0 L716.3,401.0 L717.8,399.0 L719.2,397.0 L720.7,395.0 L722.1,393.0 L723.5,391.0 L725.0,389.0 L726.4,387.0 L727.8,385.0 L729.2,383.0 L730.7,381.0 L732.1,379.0 L733.5,377.0 L734.9,375.0 L736.4,373.0 L737.8,371.0 L739.2,369.0 L740.6,367.0 L742.0,365.0 L743.4,363.0 L744.8,361.0 L746.3,359.0 L747.7,357.0 L749.1,355.0 L750.5,353.0 L751.9,351.0 L753.3,349.0 L754.7,347.0 L756.1,345.0 L757.5,343.0 L758.9,341.0 L760.3,339.0 L761.7,337.0 L763.1,335.0 L764.4,333.0 L765.8,331.0 L767.2,329.0 L768.6,327.0 L770.0,325.0 L771.4,323.0 L772.8,321.0 L774.1,319.0 L775.5,317.0 L776.9,315.0 L778.3,313.0 L779.6,311.0 L781.0,309.0 L782.4,307.0 L783.7,305.0 L785.1,303.0 L786.5,301.0 L787.8,299.0 L789.2,297.0 L790.6,295.0 L791.9,293.0 L793.3,291.0 L794.6,289.0 L796.0,287.1 L797.4,285.1 L798.7,283.1 L800.1,281.1 L801.4,279.1 L802.8,277.1 L804.1,275.1 L805.4,273.1 L806.8,271.1 L808.1,269.1 L809.5,267.1 L810.8,265.1 L812.1,263.1 L813.5,261.1 L814.8,259.1 L816.2,257.1 L817.5,255.1 L818.8,253.1 L820.1,251.1 L821.5,249.1 L822.8,247.1 L824.1,245.1 L825.4,243.1 L826.8,241.1 L828.1,239.1 L829.4,237.1 L830.7,235.1 L832.0,233.1 L833.3,231.1 L834.6,229.1 L835.9,227.1 L837.3,225.1 L838.6,223.1 L839.9,221.1 L841.2,219.1 L842.5,217.1 L843.8,215.1 L845.1,213.1 L846.4,211.1 L847.7,209.1 L848.9,207.1 L850.2,205.1 L851.5,203.1 L852.8,201.1 L854.1,199.1 L855.4,197.1 L856.7,195.1 L858.0,193.1 L859.2,191.1 L860.5,189.1 L861.8,187.1 L863.1,185.1 L864.3,183.1 L865.6,181.1 L866.9,179.1 L868.1,177.1 L869.4,175.1 L870.7,173.1 L871.9,171.1 L873.2,169.1 L874.5,167.1 L875.7,165.1 L877.0,163.1 L878.2,161.1 L879.5,159.1 L880.7,157.1 L882.0,155.1 L883.2,153.1 L884.5,151.1 L885.7,149.1 L887.0,147.1 L888.2,145.1 L889.5,143.1 L890.7,141.1 L891.9,139.1 L893.2,137.1 L894.4,135.1 L895.6,133.1 L896.9,131.1 L898.1,129.1 L899.3,127.1 L900.6,125.1 L901.8,123.1 L903.0,121.1 L904.2,119.1 L904.2,119.1 L926.9,119.1 L926.9,119.1 L926.6,121.1 L926.3,123.1 L925.9,125.1 L925.6,127.1 L925.2,129.1 L924.9,131.1 L924.5,133.1 L924.2,135.1 L923.8,137.1 L923.4,139.0 L923.0,141.0 L922.6,143.0 L922.2,145.0 L921.8,147.0 L921.4,149.0 L921.0,151.0 L920.5,153.0 L920.1,155.0 L919.7,157.0 L919.2,159.0 L918.8,161.0 L918.3,163.0 L917.8,165.0 L917.4,167.0 L916.9,169.0 L916.4,171.0 L915.9,173.0 L915.4,174.9 L914.9,176.9 L914.4,178.9 L913.9,180.9 L913.4,182.9 L912.9,184.9 L912.4,186.9 L911.9,188.9 L911.3,190.9 L910.8,192.9 L910.3,194.9 L909.7,196.9 L909.2,198.9 L908.7,200.9 L908.1,202.9 L907.6,204.9 L907.0,206.9 L906.5,208.9 L905.9,210.8 L905.3,212.8 L904.8,214.8 L904.2,216.8 L903.6,218.8 L903.1,220.8 L902.5,222.8 L901.9,224.8 L901.3,226.8 L900.7,228.8 L900.2,230.8 L899.6,232.8 L899.0,234.8 L898.4,236.8 L897.8,238.8 L897.2,240.8 L896.6,242.8 L896.0,244.8 L895.4,246.7 L894.9,248.7 L894.3,250.7 L893.7,252.7 L893.1,254.7 L892.5,256.7 L891.9,258.7 L891.3,260.7 L890.7,262.7 L890.1,264.7 L889.5,266.7 L888.9,268.7 L888.3,270.7 L887.7,272.7 L887.1,274.7 L886.5,276.7 L885.9,278.7 L885.3,280.7 L884.8,282.6 L884.2,284.6 L883.6,286.6 L883.0,288.6 L882.4,290.6 L881.8,292.6 L881.2,294.6 L880.7,296.6 L880.1,298.6 L879.5,300.6 L878.9,302.6 L878.3,304.6 L877.8,306.6 L877.2,308.6 L876.6,310.6 L876.0,312.6 L875.4,314.6 L874.9,316.6 L874.3,318.6 L873.7,320.5 L873.2,322.5 L872.6,324.5 L872.0,326.5 L871.4,328.5 L870.9,330.5 L870.3,332.5 L869.7,334.5 L869.2,336.5 L868.6,338.5 L868.0,340.5 L867.4,342.5 L866.9,344.5 L866.3,346.5 L865.7,348.5 L865.2,350.5 L864.6,352.5 L864.0,354.5 L863.5,356.4 L862.9,358.4 L862.3,360.4 L861.8,362.4 L861.2,364.4 L860.6,366.4 L860.1,368.4 L859.5,370.4 L858.9,372.4 L858.4,374.4 L857.8,376.4 L857.2,378.4 L856.7,380.4 L856.1,382.4 L855.5,384.4 L855.0,386.4 L854.4,388.4 L853.8,390.4 L853.2,392.3 L852.7,394.3 L852.1,396.3 L851.5,398.3 L851.0,400.3 L850.4,402.3 L849.8,404.3 L849.2,406.3 L848.7,408.3 L848.1,410.3 L847.5,412.3 L846.9,414.3 L846.4,416.3 L845.8,418.3 L845.2,420.3 L844.6,422.3 L844.0,424.3 L843.5,426.3 L842.9,428.2 L842.3,430.2 L841.7,432.2 L841.1,434.2 L840.5,436.2 L840.0,438.2 L839.4,440.2 L838.8,442.2 L838.2,444.2 L837.6,446.2 L837.0,448.2 L836.4,450.2 L835.8,452.2 L835.2,454.2 L834.6,456.2 L834.0,458.2 L833.4,460.2 L832.8,462.2 L832.2,464.1 L831.6,466.1 L831.0,468.1 L830.4,470.1 L829.8,472.1 L829.2,474.1 L828.6,476.1 L828.0,478.1 L827.4,480.1 L826.8,482.1 L826.1,484.1 L825.5,486.1 L824.9,488.1 L824.3,490.1 L823.7,492.1 L823.1,494.1 L822.4,496.1 L821.8,498.1 L821.2,500.1 L820.6,502.0 L819.9,504.0 L819.3,506.0 L818.7,508.0 L818.0,510.0 L817.4,512.0 L816.8,514.0 L816.1,516.0 L815.5,518.0 L814.8,520.0 L814.2,522.0 L813.6,524.0 L812.9,526.0 L812.3,528.0 L811.6,530.0 L811.0,532.0 L810.3,534.0 L809.7,536.0 L809.0,537.9 L808.4,539.9 L807.7,541.9 L807.0,543.9 L806.4,545.9 L805.7,547.9 L805.0,549.9 L804.4,551.9 L803.7,553.9 L803.0,555.9 L802.4,557.9 L801.7,559.9 L801.0,561.9 L800.3,563.9 L799.6,565.9 L799.0,567.9 L798.3,569.9 L797.6,571.9 L796.9,573.8 L796.2,575.8 L795.5,577.8 L794.8,579.8 L794.1,581.8 L793.4,583.8 L792.7,585.8 L792.0,587.8 L791.3,589.8 L790.6,591.8 L789.9,593.8 L789.2,595.8 L788.5,597.8 L787.8,599.8 L787.1,601.8 L786.3,603.8 L785.6,605.8 L784.9,607.8 L784.2,609.7 L783.4,611.7 L782.7,613.7 L782.0,615.7 L781.3,617.7 L780.5,619.7 L779.8,621.7 L779.0,623.7 L778.3,625.7 L777.5,627.7 L776.8,629.7 L776.0,631.7 L775.3,633.7 L774.5,635.7 L773.8,637.7 L773.0,639.7 L772.2,641.7 L771.5,643.7 L770.7,645.7 L769.9,647.6 L769.1,649.6 L768.3,651.6 L767.5,653.6 L766.7,655.6 L765.9,657.6 L765.1,659.6 L764.2,661.6 L763.4,663.6 L762.6,665.6 L761.7,667.6 L760.9,669.6 L760.0,671.6 L759.2,673.6 L758.3,675.6 L757.4,677.6 L756.5,679.6 L755.6,681.6 L754.7,683.5 L753.8,685.5 L752.9,687.5 L751.9,689.5 L751.0,691.5 L750.1,693.5 L749.1,695.5 L748.1,697.5 L747.2,699.5 L746.2,701.5 L745.2,703.5 L744.2,705.5 L743.1,707.5 L742.1,709.5 L741.1,711.5 L740.0,713.5 L738.9,715.5 L737.9,717.5 L736.8,719.4 L735.7,721.4 L734.6,723.4 L733.4,725.4 L732.3,727.4 L731.2,729.4 L730.0,731.4 L728.8,733.4 L727.6,735.4 L726.4,737.4 L725.2,739.4 L724.0,741.4 L722.7,743.4 L721.5,745.4 L720.2,747.4 L718.9,749.4 L717.6,751.4 L716.3,753.4 L714.9,755.3 L713.6,757.3 L712.2,759.3 L710.8,761.3 L709.4,763.3 L708.0,765.3 L706.6,767.3 L705.1,769.3 L703.7,771.3 L702.2,773.3 L700.7,775.3 L699.2,777.3 L697.6,779.3 L696.1,781.3 L694.5,783.3 L692.9,785.3 L691.3,787.3 L689.7,789.3 L688.0,791.2 L686.4,793.2 L684.7,795.2 L683.0,797.2 L681.3,799.2 L679.5,801.2 L677.7,803.2 L676.0,805.2 L674.2,807.2 L672.3,809.2"/>
<path stroke="#c06ee0" d="M233.9,810.5 L239.9,808.5 L245.7,806.5 L251.3,804.5 L256.8,802.5 L262.1,800.5 L267.3,798.5 L272.4,796.5 L277.4,794.5 L282.2,792.5 L287.0,790.5 L291.6,788.5 L296.2,786.5 L300.6,784.5 L305.0,782.5 L309.3,780.5 L313.5,778.5 L317.7,776.5 L321.8,774.5 L325.9,772.5 L329.9,770.5 L333.9,768.5 L337.9,766.5 L341.8,764.5 L345.7,762.5 L349.6,760.5 L353.5,758.5 L357.3,756.5 L361.2,754.5 L364.9,752.6 L368.7,750.6 L372.3,748.6 L375.9,746.6 L379.5,744.6 L383.0,742.6 L386.5,740.6 L389.9,738.6 L393.2,736.6 L396.6,734.6 L399.8,732.6 L403.1,730.6 L406.3,728.6 L409.4,726.6 L412.6,724.6 L415.7,722.6 L418.8,720.6 L421.9,718.6 L425.0,716.6 L428.0,714.6 L431.1,712.6 L434.1,710.6 L437.1,708.6 L440.1,706.6 L443.0,704.6 L446.0,702.6 L448.9,700.6 L451.8,698.6 L454.7,696.6 L457.6,694.6 L460.4,692.6 L463.2,690.6 L466.0,688.6 L468.8,686.6 L471.6,684.6 L474.3,682.6 L477.0,680.6 L479.7,678.6 L482.4,676.6 L485.0,674.6 L487.6,672.6 L490.2,670.6 L492.8,668.6 L495.3,666.6 L497.9,664.6 L500.4,662.6 L502.9,660.6 L505.3,658.6 L507.8,656.6 L510.3,654.6 L512.7,652.6 L515.2,650.6 L517.7,648.6 L520.1,646.6 L522.6,644.6 L525.1,642.6 L527.5,640.6 L530.0,638.6 L532.5,636.7 L535.1,634.7 L537.6,632.7 L540.2,630.7 L542.7,628.7 L545.3,626.7 L547.8,624.7 L550.3,622.7 L552.7,620.7 L555.1,618.7 L557.5,616.7 L559.8,614.7 L562.1,612.7 L564.4,610.7 L566.6,608.7 L568.7,606.7 L570.9,604.7 L573.0,602.7 L575.0,600.7 L577.1,598.7 L579.1,596.7 L581.1,594.7 L583.1,592.7 L585.1,590.7 L587.0,588.7 L588.9,586.7 L590.9,584.7 L592.8,582.7 L594.7,580.7 L596.5,578.7 L598.4,576.7 L600.3,574.7 L602.1,572.7 L604.0,570.7 L605.8,568.7 L607.7,566.7 L609.5,564.7 L611.3,562.7 L613.2,560.7 L615.0,558.7 L616.8,556.7 L618.7,554.7 L620.5,552.7 L622.4,550.7 L624.2,548.7 L626.1,546.7 L627.9,544.7 L629.8,542.7 L631.7,540.7 L633.6,538.7 L635.5,536.7 L637.4,534.7 L639.4,532.7 L641.3,530.7 L643.3,528.7 L645.3,526.7 L647.3,524.7 L649.3,522.7 L651.3,520.8 L653.3,518.8 L655.3,516.8 L657.3,514.8 L659.2,512.8 L661.1,510.8 L663.0,508.8 L664.9,506.8 L666.7,504.8 L668.4,502.8 L670.1,500.8 L671.8,498.8 L673.4,496.8 L675.1,494.8 L676.7,492.8 L678.3,490.8 L679.9,488.8 L681.6,486.8 L683.2,484.8 L684.9,482.8 L686.6,480.8 L688.2,478.8 L690.0,476.8 L691.7,474.8 L693.4,472.8 L695.2,470.8 L696.9,468.8 L698.7,466.8 L700.4,464.8 L702.2,462.8 L704.0,460.8 L705.8,458.8 L707.6,456.8 L709.3,454.8 L711.1,452.8 L712.9,450.8 L714.7,448.8 L716.5,446.8 L718.2,444.8 L720.0,442.8 L721.8,440.8 L723.5,438.8 L725.3,436.8 L727.0,434.8 L728.8,432.8 L730.5,430.8 L732.3,428.8 L734.0,426.8 L735.8,424.8 L737.5,422.8 L739.2,420.8 L741.0,418.8 L742.7,416.8 L744.4,414.8 L746.1,412.8 L747.8,410.8 L749.5,408.8 L751.2,406.9 L752.9,404.9 L754.6,402.9 L756.2,400.9 L757.9,398.9 L759.6,396.9 L761.2,394.9 L762.9,392.9 L764.5,390.9 L766.1,388.9 L767.8,386.9 L769.4,384.9 L771.0,382.9 L772.6,380.9 L774.2,378.9 L775.8,376.9 L777.3,374.9 L778.9,372.9 L780.5,370.9 L782.0,368.9 L783.6,366.9 L785.1,364.9 L786.6,362.9 L788.1,360.9 L789.6,358.9 L791.1,356.9 L792.6,354.9 L794.1,352.9 L795.5,350.9 L797.0,348.9 L798.4,346.9 L799.9,344.9 L801.3,342.9 L802.7,340.9 L804.2,338.9 L805.6,336.9 L807.0,334.9 L808.3,332.9 L809.7,330.9 L811.1,328.9 L812.5,326.9 L813.9,324.9 L815.2,322.9 L816.6,320.9 L817.9,318.9 L819.3,316.9 L820.6,314.9 L822.0,312.9 L823.3,310.9 L824.6,308.9 L826.0,306.9 L827.3,304.9 L828.6,302.9 L830.0,300.9 L831.3,298.9 L832.6,296.9 L833.9,294.9 L835.2,292.9 L836.6,291.0 L837.9,289.0 L839.2,287.0 L840.5,285.0 L841.8,283.0 L843.2,281.0 L844.5,279.0 L845.8,277.0 L847.1,275.0 L848.5,273.0 L849.8,271.0 L851.1,269.0 L852.5,267.0 L853.8,265.0 L855.1,263.0 L856.5,261.0 L857.8,259.0 L859.2,257.0 L860.5,255.0 L861.9,253.0 L863.3,251.0 L864.6,249.0 L866.0,247.0 L867.4,245.0 L868.8,243.0 L870.2,241.0 L871.6,239.0 L873.0,237.0 L874.4,235.0 L875.8,233.0 L877.2,231.0 L878.7,229.0 L880.1,227.0 L881.5,225.0 L882.9,223.0 L884.4,221.0 L885.8,219.0 L887.2,217.0 L888.6,215.0 L890.1,213.0 L891.5,211.0 L892.9,209.0 L894.3,207.0 L895.7,205.0 L897.1,203.0 L898.5,201.0 L899.9,199.0 L901.3,197.0 L902.7,195.0 L904.0,193.0 L905.4,191.0 L906.8,189.0 L908.1,187.0 L909.5,185.0 L910.8,183.0 L912.1,181.0 L913.4,179.0 L914.7,177.0 L916.0,175.1 L917.2,173.1 L918.5,171.1 L919.8,169.1 L921.0,167.1 L922.2,165.1 L923.4,163.1 L924.7,161.1 L925.9,159.1 L927.1,157.1 L928.3,155.1 L929.6,153.1 L930.8,151.1 L932.0,149.1 L933.3,147.1 L934.5,145.1 L935.8,143.1 L937.1,141.1 L938.4,139.1 L939.7,137.1 L941.1,135.1 L942.4,133.1 L943.8,131.1 L945.2,129.1 L946.7,127.1 L948.1,125.1 L949.6,123.1 L951.1,121.1 L952.7,119.1 L952.7,119.1 L972.5,119.1 L972.5,119.1 L972.1,121.1 L971.7,123.1 L971.3,125.1 L970.9,127.1 L970.5,129.1 L970.1,131.1 L969.7,133.1 L969.4,135.1 L969.0,137.1 L968.6,139.0 L968.2,141.0 L967.8,143.0 L967.4,145.0 L967.0,147.0 L966.7,149.0 L966.3,151.0 L965.9,153.0 L965.5,155.0 L965.1,157.0 L964.7,159.0 L964.4,161.0 L964.0,163.0 L963.6,165.0 L963.2,167.0 L962.8,169.0 L962.4,171.0 L962.0,173.0 L961.7,174.9 L961.3,176.9 L960.9,178.9 L960.5,180.9 L960.1,182.9 L959.7,184.9 L959.3,186.9 L958.9,188.9 L958.5,190.9 L958.1,192.9 L957.7,194.9 L957.3,196.9 L956.9,198.9 L956.5,200.9 L956.1,202.9 L955.7,204.9 L955.3,206.9 L954.8,208.9 L954.4,210.8 L954.0,212.8 L953.6,214.8 L953.2,216.8 L952.7,218.8 L952.3,220.8 L951.9,222.8 L951.4,224.8 L951.0,226.8 L950.5,228.8 L950.1,230.8 L949.7,232.8 L949.2,234.8 L948.7,236.8 L948.3,238.8 L947.8,240.8 L947.4,242.8 L946.9,244.8 L946.4,246.7 L945.9,248.7 L945.4,250.7 L945.0,252.7 L944.5,254.7 L944.0,256.7 L943.5,258.7 L943.0,260.7 L942.5,262.7 L941.9,264.7 L941.4,266.7 L940.9,268.7 L940.4,270.7 L939.8,272.7 L939.3,274.7 L938.8,276.7 L938.2,278.7 L937.7,280.7 L937.2,282.6 L936.6,284.6 L936.1,286.6 L935.5,288.6 L935.0,290.6 L934.4,292.6 L933.9,294.6 L933.3,296.6 L932.7,298.6 L932.2,300.6 L931.6,302.6 L931.1,304.6 L930.5,306.6 L929.9,308.6 L929.4,310.6 L928.8,312.6 L928.3,314.6 L927.7,316.6 L927.1,318.6 L926.6,320.5 L926.0,322.5 L925.4,324.5 L924.9,326.5 L924.3,328.5 L923.7,330.5 L923.2,332.5 L922.6,334.5 L922.0,336.5 L921.5,338.5 L920.9,340.5 L920.3,342.5 L919.8,344.5 L919.2,346.5 L918.6,348.5 L918.1,350.5 L917.5,352.5 L916.9,354.5 L916.4,356.4 L915.8,358.4 L915.3,360.4 L914.7,362.4 L914.1,364.4 L913.6,366.4 L913.0,368.4 L912.5,370.4 L911.9,372.4 L911.4,374.4 L910.8,376.4 L910.3,378.4 L909.7,380.4 L909.2,382.4 L908.6,384.4 L908.1,386.4 L907.5,388.4 L907.0,390.4 L906.4,392.3 L905.9,394.3 L905.3,396.3 L904.8,398.3 L904.3,400.3 L903.7,402.3 L903.2,404.3 L902.7,406.3 L902.1,408.3 L901.6,410.3 L901.0,412.3 L900.5,414.3 L900.0,416.3 L899.4,418.3 L898.9,420.3 L898.4,422.3 L897.8,424.3 L897.3,426.3 L896.8,428.2 L896.2,430.2 L895.7,432.2 L895.2,434.2 L894.6,436.2 L894.1,438.2 L893.6,440.2 L893.0,442.2 L892.5,444.2 L891.9,446.2 L891.4,448.2 L890.8,450.2 L890.3,452.2 L889.7,454.2 L889.2,456.2 L888.6,458.2 L888.0,460.2 L887.5,462.2 L886.9,464.1 L886.3,466.1 L885.8,468.1 L885.2,470.1 L884.6,472.1 L884.0,474.1 L883.4,476.1 L882.9,478.1 L882.3,480.1 L881.7,482.1 L881.1,484.1 L880.5,486.1 L879.9,488.1 L879.3,490.1 L878.7,492.1 L878.1,494.1 L877.5,496.1 L876.9,498.1 L876.3,500.1 L875.7,502.0 L875.0,504.0 L874.4,506.0 L873.8,508.0 L873.2,510.0 L872.6,512.0 L872.0,514.0 L871.3,516.0 L870.7,518.0 L870.1,520.0 L869.5,522.0 L868.9,524.0 L868.2,526.0 L867.6,528.0 L867.0,530.0 L866.3,532.0 L865.7,534.0 L865.1,536.0 L864.5,537.9 L863.8,539.9 L863.2,541.9 L862.6,543.9 L861.9,545.9 L861.3,547.9 L860.7,549.9 L860.0,551.9 L859.4,553.9 L858.8,555.9 L858.1,557.9 L857.5,559.9 L856.9,561.9 L856.3,563.9 L855.6,565.9 L855.0,567.9 L854.4,569.9 L853.7,571.9 L853.1,573.8 L852.5,575.8 L851.8,577.8 L851.2,579.8 L850.6,581.8 L850.0,583.8 L849.3,585.8 L848.7,587.8 L848.1,589.8 L847.5,591.8 L846.9,593.8 L846.2,595.8 L845.6,597.8 L845.0,599.8 L844.3,601.8 L843.7,603.8 L843.1,605.8 L842.5,607.8 L841.8,609.7 L841.2,611.7 L840.5,613.7 L839.9,615.7 L839.3,617.7 L838.6,619.7 L838.0,621.7 L837.3,623.7 L836.7,625.7 L836.0,627.7 L835.3,629.7 L834.7,631.7 L834.0,633.7 L833.3,635.7 L832.6,637.7 L832.0,639.7 L831.3,641.7 L830.6,643.7 L829.9,645.7 L829.2,647.6 L828.5,649.6 L827.7,651.6 L827.0,653.6 L826.3,655.6 L825.6,657.6 L824.8,659.6 L824.1,661.6 L823.3,663.6 L822.6,665.6 L821.8,667.6 L821.0,669.6 L820.2,671.6 L819.5,673.6 L818.7,675.6 L817.9,677.6 L817.1,679.6 L816.2,681.6 L815.4,683.5 L814.6,685.5 L813.7,687.5 L812.9,689.5 L812.0,691.5 L811.1,693.5 L810.3,695.5 L809.4,697.5 L808.5,699.5 L807.6,701.5 L806.7,703.5 L805.7,705.5 L804.8,707.5 L803.8,709.5 L802.9,711.5 L801.9,713.5 L800.9,715.5 L799.9,717.5 L798.9,719.4 L797.9,721.4 L796.9,723.4 L795.9,725.4 L794.8,727.4 L793.7,729.4 L792.7,731.4 L791.6,733.4 L790.5,735.4 L789.4,737.4 L788.3,739.4 L787.1,741.4 L786.0,743.4 L784.8,745.4 L783.6,747.4 L782.4,749.4 L781.2,751.4 L780.0,753.4 L778.8,755.3 L777.5,757.3 L776.3,759.3 L775.0,761.3 L773.7,763.3 L772.4,765.3 L771.0,767.3 L769.7,769.3 L768.3,771.3 L766.9,773.3 L765.5,775.3 L764.0,777.3 L762.5,779.3 L761.0,781.3 L759.5,783.3 L757.9,785.3 L756.3,787.3 L754.7,789.3 L753.1,791.2 L751.4,793.2 L749.7,795.2 L747.9,797.2 L746.1,799.2 L744.3,801.2 L742.5,803.2 L740.6,805.2 L738.7,807.2 L736.7,809.2"/>
<path stroke="#e0a000" d="M226.5,810.5 L231.3,808.5 L236.4,806.5 L241.6,804.5 L246.9,802.5 L252.4,800.5 L257.9,798.5 L263.4,796.5 L268.9,794.5 L274.4,792.5 L279.7,790.5 L285.0,788.5 L290.0,786.5 L294.9,784.5 L299.5,782.5 L303.9,780.5 L308.0,778.5 L311.9,776.5 L315.7,774.5 L319.4,772.5 L323.0,770.5 L326.5,768.5 L330.2,766.5 L333.8,764.5 L337.7,762.5 L341.6,760.5 L345.7,758.5 L349.7,756.5 L353.4,754.5 L356.8,752.6 L359.9,750.6 L362.7,748.6 L365.3,746.6 L367.8,744.6 L370.2,742.6 L372.5,740.6 L374.8,738.6 L377.2,736.6 L379.6,734.6 L382.1,732.6 L384.8,730.6 L387.5,728.6 L390.4,726.6 L393.2,724.6 L396.2,722.6 L399.1,720.6 L402.0,718.6 L405.0,716.6 L407.9,714.6 L410.8,712.6 L413.7,710.6 L416.5,708.6 L419.2,706.6 L421.9,704.6 L424.6,702.6 L427.2,700.6 L429.8,698.6 L432.4,696.6 L434.9,694.6 L437.4,692.6 L439.8,690.6 L442.3,688.6 L444.6,686.6 L447.0,684.6 L449.3,682.6 L451.7,680.6 L453.9,678.6 L456.2,676.6 L458.5,674.6 L460.7,672.6 L462.9,670.6 L465.1,668.6 L467.3,666.6 L469.4,664.6 L471.6,662.6 L473.7,660.6 L475.9,658.6 L478.0,656.6 L480.1,654.6 L482.2,652.6 L484.3,650.6 L486.3,648.6 L488.4,646.6 L490.4,644.6 L492.5,642.6 L494.5,640.6 L496.5,638.6 L498.5,636.7 L500.5,634.7 L502.5,632.7 L504.5,630.7 L506.4,628.7 L508.4,626.7 L510.3,624.7 L512.3,622.7 L514.2,620.7 L516.1,618.7 L518.0,616.7 L519.9,614.7 L521.8,612.7 L523.6,610.7 L525.5,608.7 L527.4,606.7 L529.2,604.7 L531.0,602.7 L532.9,600.7 L534.7,598.7 L536.5,596.7 L538.3,594.7 L540.1,592.7 L541.9,590.7 L543.7,588.7 L545.4,586.7 L547.2,584.7 L548.9,582.7 L550.7,580.7 L552.4,578.7 L554.1,576.7 L555.9,574.7 L557.6,572.7 L559.3,570.7 L561.0,568.7 L562.7,566.7 L564.3,564.7 L566.0,562.7 L567.7,560.7 L569.4,558.7 L571.0,556.7 L572.7,554.7 L574.3,552.7 L575.9,550.7 L577.6,548.7 L579.2,546.7 L580.8,544.7 L582.4,542.7 L584.0,540.7 L585.6,538.7 L587.2,536.7 L588.8,534.7 L590.3,532.7 L591.9,530.7 L593.5,528.7 L595.0,526.7 L596.6,524.7 L598.1,522.7 L599.6,520.8 L601.2,518.8 L602.7,516.8 L604.2,514.8 L605.7,512.8 L607.2,510.8 L608.7,508.8 L610.2,506.8 L611.7,504.8 L613.2,502.8 L614.6,500.8 L616.1,498.8 L617.6,496.8 L619.0,494.8 L620.5,492.8 L621.9,490.8 L623.3,488.8 L624.8,486.8 L626.2,484.8 L627.6,482.8 L629.0,480.8 L630.4,478.8 L631.8,476.8 L633.2,474.8 L634.6,472.8 L636.0,470.8 L637.4,468.8 L638.7,466.8 L640.1,464.8 L641.5,462.8 L642.8,460.8 L644.2,458.8 L645.5,456.8 L646.9,454.8 L648.2,452.8 L649.5,450.8 L650.9,448.8 L652.2,446.8 L653.5,444.8 L654.8,442.8 L656.2,440.8 L657.5,438.8 L658.8,436.8 L660.1,434.8 L661.4,432.8 L662.7,430.8 L664.0,428.8 L665.3,426.8 L666.5,424.8 L667.8,422.8 L669.1,420.8 L670.4,418.8 L671.7,416.8 L672.9,414.8 L674.2,412.8 L675.5,410.8 L676.7,408.8 L678.0,406.9 L679.2,404.9 L680.5,402.9 L681.8,400.9 L683.0,398.9 L684.3,396.9 L685.5,394.9 L686.7,392.9 L688.0,390.9 L689.2,388.9 L690.5,386.9 L691.7,384.9 L692.9,382.9 L694.2,380.9 L695.4,378.9 L696.7,376.9 L697.9,374.9 L699.1,372.9 L700.3,370.9 L701.6,368.9 L702.8,366.9 L704.0,364.9 L705.3,362.9 L706.5,360.9 L707.7,358.9 L709.0,356.9 L710.2,354.9 L711.4,352.9 L712.6,350.9 L713.9,348.9 L715.1,346.9 L716.3,344.9 L717.5,342.9 L718.8,340.9 L720.0,338.9 L721.2,336.9 L722.5,334.9 L723.7,332.9 L724.9,330.9 L726.2,328.9 L727.4,326.9 L728.6,324.9 L729.9,322.9 L731.1,320.9 L732.3,318.9 L733.6,316.9 L734.8,314.9 L736.1,312.9 L737.3,310.9 L738.6,308.9 L739.8,306.9 L741.1,304.9 L742.3,302.9 L743.6,300.9 L744.8,298.9 L746.1,296.9 L747.4,294.9 L748.6,292.9 L749.9,291.0 L751.2,289.0 L752.5,287.0 L753.7,285.0 L755.0,283.0 L756.3,281.0 L757.6,279.0 L758.9,277.0 L760.1,275.0 L761.4,273.0 L762.7,271.0 L764.0,269.0 L765.2,267.0 L766.5,265.0 L767.8,263.0 L769.0,261.0 L770.3,259.0 L771.5,257.0 L772.7,255.0 L774.0,253.0 L775.2,251.0 L776.4,249.0 L777.6,247.0 L778.8,245.0 L780.0,243.0 L781.2,241.0 L782.4,239.0 L783.6,237.0 L784.8,235.0 L786.0,233.0 L787.1,231.0 L788.3,229.0 L789.5,227.0 L790.6,225.0 L791.8,223.0 L792.9,221.0 L794.0,219.0 L795.2,217.0 L796.3,215.0 L797.4,213.0 L798.6,211.0 L799.7,209.0 L800.8,207.0 L801.9,205.0 L803.0,203.0 L804.1,201.0 L805.2,199.0 L806.3,197.0 L807.4,195.0 L808.4,193.0 L809.5,191.0 L810.6,189.0 L811.7,187.0 L812.7,185.0 L813.8,183.0 L814.9,181.0 L815.9,179.0 L817.0,177.0 L818.0,175.1 L819.1,173.1 L820.1,171.1 L821.2,169.1 L822.3,167.1 L823.3,165.1 L824.4,163.1 L825.4,161.1 L826.5,159.1 L827.6,157.1 L828.7,155.1 L829.8,153.1 L830.9,151.1 L832.0,149.1 L833.2,147.1 L834.3,145.1 L835.5,143.1 L836.6,141.1 L837.8,139.1 L839.0,137.1 L840.3,135.1 L841.5,133.1 L842.8,131.1 L844.0,129.1 L845.3,127.1 L846.7,125.1 L848.0,123.1 L849.4,121.1 L850.8,119.1 L850.8,119.1 L878.0,119.1 L878.0,119.1 L877.7,121.1 L877.4,123.1 L877.0,125.1 L876.7,127.1 L876.3,129.1 L875.9,131.1 L875.6,133.1 L875.2,135.1 L874.8,137.1 L874.4,139.0 L874.0,141.0 L873.6,143.0 L873.2,145.0 L872.8,147.0 L872.4,149.0 L872.0,151.0 L871.6,153.0 L871.1,155.0 L870.7,157.0 L870.3,159.0 L869.8,161.0 L869.4,163.0 L868.9,165.0 L868.5,167.0 L868.0,169.0 L867.5,171.0 L867.1,173.0 L866.6,174.9 L866.1,176.9 L865.6,178.9 L865.1,180.9 L864.7,182.9 L864.2,184.9 L863.7,186.9 L863.2,188.9 L862.7,190.9 L862.2,192.9 L861.7,194.9 L861.2,196.9 L860.7,198.9 L860.1,200.9 L859.6,202.9 L859.1,204.9 L858.6,206.9 L858.1,208.9 L857.6,210.8 L857.0,212.8 L856.5,214.8 L856.0,216.8 L855.5,218.8 L854.9,220.8 L854.4,222.8 L853.9,224.8 L853.4,226.8 L852.8,228.8 L852.3,230.8 L851.8,232.8 L851.2,234.8 L850.7,236.8 L850.2,238.8 L849.7,240.8 L849.1,242.8 L848.6,244.8 L848.1,246.7 L847.6,248.7 L847.0,250.7 L846.5,252.7 L846.0,254.7 L845.4,256.7 L844.9,258.7 L844.4,260.7 L843.9,262.7 L843.3,264.7 L842.8,266.7 L842.3,268.7 L841.7,270.7 L841.2,272.7 L840.7,274.7 L840.2,276.7 L839.6,278.7 L839.1,280.7 L838.6,282.6 L838.0,284.6 L837.5,286.6 L837.0,288.6 L836.5,290.6 L835.9,292.6 L835.4,294.6 L834.9,296.6 L834.3,298.6 L833.8,300.6 L833.3,302.6 L832.7,304.6 L832.2,306.6 L831.7,308.6 L831.1,310.6 L830.6,312.6 L830.1,314.6 L829.5,316.6 L829.0,318.6 L828.5,320.5 L827.9,322.5 L827.4,324.5 L826.9,326.5 L826.3,328.5 L825.8,330.5 L825.3,332.5 L824.7,334.5 L824.2,336.5 L823.7,338.5 L823.1,340.5 L822.6,342.5 L822.0,344.5 L821.5,346.5 L821.0,348.5 L820.4,350.5 L819.9,352.5 L819.3,354.5 L818.8,356.4 L818.2,358.4 L817.7,360.4 L817.2,362.4 L816.6,364.4 L816.1,366.4 L815.5,368.4 L815.0,370.4 L814.4,372.4 L813.9,374.4 L813.3,376.4 L812.8,378.4 L812.2,380.4 L811.7,382.4 L811.1,384.4 L810.6,386.4 L810.0,388.4 L809.5,390.4 L808.9,392.3 L808.3,394.3 L807.8,396.3 L807.2,398.3 L806.7,400.3 L806.1,402.3 L805.5,404.3 L805.0,406.3 L804.4,408.3 L803.9,410.3 L803.3,412.3 L802.7,414.3 L802.2,416.3 L801.6,418.3 L801.0,420.3 L800.5,422.3 L799.9,424.3 L799.3,426.3 L798.7,428.2 L798.2,430.2 L797.6,432.2 L797.0,434.2 L796.4,436.2 L795.9,438.2 L795.3,440.2 L794.7,442.2 L794.1,444.2 L793.5,446.2 L793.0,448.2 L792.4,450.2 L791.8,452.2 L791.2,454.2 L790.6,456.2 L790.0,458.2 L789.4,460.2 L788.9,462.2 L788.3,464.1 L787.7,466.1 L787.1,468.1 L786.5,470.1 L785.9,472.1 L785.3,474.1 L784.7,476.1 L784.1,478.1 L783.5,480.1 L782.9,482.1 L782.3,484.1 L781.7,486.1 L781.1,488.1 L780.5,490.1 L779.9,492.1 L779.3,494.1 L778.7,496.1 L778.1,498.1 L777.4,500.1 L776.8,502.0 L776.2,504.0 L775.6,506.0 L775.0,508.0 L774.4,510.0 L773.8,512.0 L773.1,514.0 L772.5,516.0 L771.9,518.0 L771.3,520.0 L770.7,522.0 L770.0,524.0 L769.4,526.0 L768.8,528.0 L768.2,530.0 L767.5,532.0 L766.9,534.0 L766.3,536.0 L765.6,537.9 L765.0,539.9 L764.4,541.9 L763.7,543.9 L763.1,545.9 L762.4,547.9 L761.8,549.9 L761.2,551.9 L760.5,553.9 L759.9,555.9 L759.2,557.9 L758.6,559.9 L757.9,561.9 L757.3,563.9 L756.6,565.9 L756.0,567.9 L755.3,569.9 L754.7,571.9 L754.0,573.8 L753.4,575.8 L752.7,577.8 L752.0,579.8 L751.4,581.8 L750.7,583.8 L750.1,585.8 L749.4,587.8 L748.7,589.8 L748.1,591.8 L747.4,593.8 L746.7,595.8 L746.0,597.8 L745.4,599.8 L744.7,601.8 L744.0,603.8 L743.3,605.8 L742.7,607.8 L742.0,609.7 L741.3,611.7 L740.6,613.7 L739.9,615.7 L739.2,617.7 L738.5,619.7 L737.9,621.7 L737.2,623.7 L736.5,625.7 L735.8,627.7 L735.1,629.7 L734.4,631.7 L733.7,633.7 L732.9,635.7 L732.2,637.7 L731.5,639.7 L730.8,641.7 L730.1,643.7 L729.3,645.7 L728.6,647.6 L727.9,649.6 L727.1,651.6 L726.4,653.6 L725.6,655.6 L724.9,657.6 L724.1,659.6 L723.3,661.6 L722.6,663.6 L721.8,665.6 L721.0,667.6 L720.2,669.6 L719.4,671.6 L718.6,673.6 L717.8,675.6 L717.0,677.6 L716.2,679.6 L715.3,681.6 L714.5,683.5 L713.7,685.5 L712.8,687.5 L711.9,689.5 L711.1,691.5 L710.2,693.5 L709.3,695.5 L708.4,697.5 L707.5,699.5 L706.6,701.5 L705.7,703.5 L704.8,705.5 L703.9,707.5 L702.9,709.5 L702.0,711.5 L701.0,713.5 L700.1,715.5 L699.1,717.5 L698.1,719.4 L697.1,721.4 L696.1,723.4 L695.1,725.4 L694.0,727.4 L693.0,729.4 L692.0,731.4 L690.9,733.4 L689.8,735.4 L688.7,737.4 L687.7,739.4 L686.6,741.4 L685.4,743.4 L684.3,745.4 L683.2,747.4 L682.0,749.4 L680.9,751.4 L679.7,753.4 L678.5,755.3 L677.3,757.3 L676.1,759.3 L674.8,761.3 L673.6,763.3 L672.4,765.3 L671.1,767.3 L669.8,769.3 L668.5,771.3 L667.2,773.3 L665.9,775.3 L664.5,777.3 L663.2,779.3 L661.8,781.3 L660.5,783.3 L659.1,785.3 L657.7,787.3 L656.2,789.3 L654.8,791.2 L653.3,793.2 L651.9,795.2 L650.4,797.2 L648.9,799.2 L647.4,801.2 L645.8,803.2 L644.3,805.2 L642.7,807.2 L641.1,809.2"/>
<path stroke="#00cccc" d="M228.5,810.5 L233.9,808.5 L239.0,806.5 L243.9,804.5 L248.5,802.5 L253.0,800.5 L257.3,798.5 L261.3,796.5 L265.3,794.5 L269.1,792.5 L272.7,790.5 L276.3,788.5 L279.7,786.5 L283.1,784.5 L286.4,782.5 L289.6,780.5 L292.9,778.5 L296.1,776.5 L299.3,774.5 L302.5,772.5 L305.8,770.5 L309.1,768.5 L312.3,766.5 L315.6,764.5 L318.9,762.5 L322.1,760.5 L325.4,758.5 L328.7,756.5 L331.9,754.5 L335.1,752.6 L338.3,750.6 L341.5,748.6 L344.7,746.6 L347.8,744.6 L350.9,742.6 L353.9,740.6 L356.9,738.6 L359.9,736.6 L362.8,734.6 L365.7,732.6 L368.5,730.6 L371.2,728.6 L373.9,726.6 L376.5,724.6 L379.1,722.6 L381.5,720.6 L384.0,718.6 L386.3,716.6 L388.7,714.6 L391.0,712.6 L393.3,710.6 L395.6,708.6 L397.9,706.6 L400.2,704.6 L402.6,702.6 L405.0,700.6 L407.5,698.6 L410.0,696.6 L412.6,694.6 L415.2,692.6 L417.9,690.6 L420.5,688.6 L423.1,686.6 L425.6,684.6 L428.1,682.6 L430.5,680.6 L432.9,678.6 L435.3,676.6 L437.6,674.6 L439.9,672.6 L442.1,670.6 L444.4,668.6 L446.5,666.6 L448.7,664.6 L450.8,662.6 L452.9,660.6 L455.0,658.6 L457.1,656.6 L459.1,654.6 L461.1,652.6 L463.1,650.6 L465.1,648.6 L467.1,646.6 L469.0,644.6 L471.0,642.6 L472.9,640.6 L474.9,638.6 L476.8,636.7 L478.8,634.7 L480.7,632.7 L482.6,630.7 L484.6,628.7 L486.5,626.7 L488.5,624.7 L490.4,622.7 L492.4,620.7 L494.4,618.7 L496.4,616.7 L498.4,614.7 L500.4,612.7 L502.5,610.7 L504.5,608.7 L506.5,606.7 L508.6,604.7 L510.6,602.7 L512.6,600.7 L514.7,598.7 L516.7,596.7 L518.7,594.7 L520.7,592.7 L522.6,590.7 L524.6,588.7 L526.5,586.7 L528.4,584.7 L530.3,582.7 L532.1,580.7 L534.0,578.7 L535.8,576.7 L537.6,574.7 L539.5,572.7 L541.3,570.7 L543.1,568.7 L544.8,566.7 L546.6,564.7 L548.4,562.7 L550.2,560.7 L551.9,558.7 L553.7,556.7 L555.5,554.7 L557.2,552.7 L559.0,550.7 L560.8,548.7 L562.5,546.7 L564.3,544.7 L566.1,542.7 L567.9,540.7 L569.7,538.7 L571.5,536.7 L573.3,534.7 L575.1,532.7 L576.9,530.7 L578.7,528.7 L580.6,526.7 L582.4,524.7 L584.2,522.7 L586.0,520.8 L587.8,518.8 L589.6,516.8 L591.4,514.8 L593.2,512.8 L595.0,510.8 L596.8,508.8 L598.5,506.8 L600.3,504.8 L602.0,502.8 L603.7,500.8 L605.5,498.8 L607.2,496.8 L608.9,494.8 L610.5,492.8 L612.2,490.8 L613.9,488.8 L615.6,486.8 L617.2,484.8 L618.9,482.8 L620.5,480.8 L622.1,478.8 L623.8,476.8 L625.4,474.8 L627.0,472.8 L628.6,470.8 L630.2,468.8 L631.8,466.8 L633.4,464.8 L635.0,462.8 L636.6,460.8 L638.2,458.8 L639.8,456.8 L641.4,454.8 L643.0,452.8 L644.6,450.8 L646.2,448.8 L647.8,446.8 L649.3,444.8 L650.9,442.8 L652.5,440.8 L654.1,438.8 L655.7,436.8 L657.2,434.8 L658.8,432.8 L660.4,430.8 L661.9,428.8 L663.5,426.8 L665.0,424.8 L666.6,422.8 L668.2,420.8 L669.7,418.8 L671.3,416.8 L672.8,414.8 L674.4,412.8 L675.9,410.8 L677.5,408.8 L679.0,406.9 L680.5,404.9 L682.1,402.9 L683.6,400.9 L685.2,398.9 L686.7,396.9 L688.2,394.9 L689.7,392.9 L691.3,390.9 L692.8,388.9 L694.3,386.9 L695.9,384.9 L697.4,382.9 L698.9,380.9 L700.4,378.9 L701.9,376.9 L703.4,374.9 L705.0,372.9 L706.5,370.9 L708.0,368.9 L709.5,366.9 L711.0,364.9 L712.5,362.9 L714.0,360.9 L715.5,358.9 L717.0,356.9 L718.5,354.9 L720.0,352.9 L721.5,350.9 L723.0,348.9 L724.5,346.9 L726.0,344.9 L727.5,342.9 L728.9,340.9 L730.4,338.9 L731.9,336.9 L733.4,334.9 L734.9,332.9 L736.3,330.9 L737.8,328.9 L739.3,326.9 L740.8,324.9 L742.2,322.9 L743.7,320.9 L745.1,318.9 L746.6,316.9 L748.1,314.9 L749.5,312.9 L751.0,310.9 L752.4,308.9 L753.9,306.9 L755.3,304.9 L756.8,302.9 L758.2,300.9 L759.6,298.9 L761.1,296.9 L762.5,294.9 L763.9,292.9 L765.4,291.0 L766.8,289.0 L768.2,287.0 L769.6,285.0 L771.0,283.0 L772.4,281.0 L773.9,279.0 L775.3,277.0 L776.7,275.0 L778.1,273.0 L779.5,271.0 L780.9,269.0 L782.3,267.0 L783.6,265.0 L785.0,263.0 L786.4,261.0 L787.8,259.0 L789.2,257.0 L790.6,255.0 L791.9,253.0 L793.3,251.0 L794.7,249.0 L796.0,247.0 L797.4,245.0 L798.8,243.0 L800.1,241.0 L801.5,239.0 L802.9,237.0 L804.2,235.0 L805.6,233.0 L806.9,231.0 L808.3,229.0 L809.6,227.0 L811.0,225.0 L812.3,223.0 L813.7,221.0 L815.0,219.0 L816.4,217.0 L817.7,215.0 L819.1,213.0 L820.5,211.0 L821.8,209.0 L823.2,207.0 L824.5,205.0 L825.9,203.0 L827.2,201.0 L828.6,199.0 L829.9,197.0 L831.3,195.0 L832.6,193.0 L834.0,191.0 L835.3,189.0 L836.7,187.0 L838.1,185.0 L839.4,183.0 L840.8,181.0 L842.1,179.0 L843.5,177.0 L844.8,175.1 L846.2,173.1 L847.5,171.1 L848.9,169.1 L850.2,167.1 L851.5,165.1 L852.8,163.1 L854.2,161.1 L855.4,159.1 L856.7,157.1 L858.0,155.1 L859.3,153.1 L860.5,151.1 L861.8,149.1 L863.0,147.1 L864.2,145.1 L865.4,143.1 L866.5,141.1 L867.7,139.1 L868.8,137.1 L869.9,135.1 L871.0,133.1 L872.1,131.1 L873.1,129.1 L874.2,127.1 L875.2,125.1 L876.1,123.1 L877.1,121.1 L878.0,119.1 L878.0,119.1 L899.6,119.1 L899.6,119.1 L899.2,121.1 L898.7,123.1 L898.3,125.1 L897.9,127.1 L897.4,129.1 L897.0,131.1 L896.6,133.1 L896.1,135.1 L895.7,137.1 L895.2,139.1 L894.8,141.1 L894.3,143.1 L893.9,145.1 L893.5,147.1 L893.0,149.1 L892.6,151.1 L892.1,153.1 L891.7,155.1 L891.2,157.1 L890.7,159.1 L890.3,161.1 L889.8,163.1 L889.4,165.1 L888.9,167.1 L888.5,169.1 L888.0,171.1 L887.5,173.1 L887.1,175.1 L886.6,177.1 L886.1,179.1 L885.7,181.1 L885.2,183.1 L884.7,185.1 L884.2,187.1 L883.8,189.1 L883.3,191.1 L882.8,193.1 L882.3,195.1 L881.9,197.1 L881.4,199.1 L880.9,201.1 L880.4,203.1 L879.9,205.1 L879.4,207.1 L879.0,209.1 L878.5,211.1 L878.0,213.1 L877.5,215.1 L877.0,217.1 L876.5,219.1 L876.0,221.1 L875.5,223.1 L875.0,225.1 L874.5,227.1 L874.0,229.1 L873.5,231.1 L873.0,233.1 L872.5,235.1 L872.0,237.1 L871.5,239.1 L871.0,241.1 L870.5,243.1 L870.0,245.1 L869.5,247.1 L869.0,249.1 L868.4,251.1 L867.9,253.1 L867.4,255.1 L866.9,257.1 L866.4,259.1 L865.9,261.1 L865.3,263.1 L864.8,265.1 L864.3,267.1 L863.8,269.1 L863.3,271.1 L862.7,273.1 L862.2,275.1 L861.7,277.1 L861.2,279.1 L860.6,281.1 L860.1,283.1 L859.6,285.1 L859.0,287.1 L858.5,289.1 L858.0,291.1 L857.4,293.1 L856.9,295.1 L856.4,297.1 L855.8,299.1 L855.3,301.1 L854.7,303.1 L854.2,305.1 L853.7,307.1 L853.1,309.1 L852.6,311.1 L852.0,313.1 L851.5,315.1 L850.9,317.1 L850.4,319.1 L849.8,321.1 L849.3,323.1 L848.7,325.1 L848.2,327.1 L847.6,329.1 L847.1,331.1 L846.5,333.1 L846.0,335.1 L845.4,337.1 L844.8,339.1 L844.3,341.1 L843.7,343.1 L843.2,345.1 L842.6,347.1 L842.0,349.1 L841.5,351.1 L840.9,353.1 L840.3,355.1 L839.8,357.1 L839.2,359.1 L838.6,361.1 L838.1,363.1 L837.5,365.1 L836.9,367.1 L836.4,369.1 L835.8,371.1 L835.2,373.1 L834.6,375.1 L834.1,377.1 L833.5,379.1 L832.9,381.1 L832.3,383.1 L831.7,385.1 L831.2,387.1 L830.6,389.1 L830.0,391.1 L829.4,393.1 L828.8,395.1 L828.2,397.1 L827.7,399.1 L827.1,401.1 L826.5,403.1 L825.9,405.1 L825.3,407.1 L824.7,409.1 L824.1,411.1 L823.5,413.1 L823.0,415.1 L822.4,417.1 L821.8,419.1 L821.2,421.1 L820.6,423.1 L820.0,425.1 L819.4,427.1 L818.8,429.1 L818.2,431.1 L817.6,433.1 L817.0,435.1 L816.4,437.1 L815.8,439.1 L815.2,441.1 L814.6,443.1 L814.0,445.1 L813.4,447.1 L812.8,449.1 L812.2,451.1 L811.5,453.1 L810.9,455.1 L810.3,457.1 L809.7,459.1 L809.1,461.1 L808.5,463.1 L807.9,465.0 L807.3,467.0 L806.6,469.0 L806.0,471.0 L805.4,473.0 L804.8,475.0 L804.2,477.0 L803.5,479.0 L802.9,481.0 L802.3,483.0 L801.7,485.0 L801.1,487.0 L800.4,489.0 L799.8,491.0 L799.2,493.0 L798.5,495.0 L797.9,497.0 L797.3,499.0 L796.6,501.0 L796.0,503.0 L795.4,505.0 L794.7,507.0 L794.1,509.0 L793.5,511.0 L792.8,513.0 L792.2,515.0 L791.5,517.0 L790.9,519.0 L790.2,521.0 L789.6,523.0 L789.0,525.0 L788.3,527.0 L787.7,529.0 L787.0,531.0 L786.4,533.0 L785.7,535.0 L785.0,537.0 L784.4,539.0 L783.7,541.0 L783.1,543.0 L782.4,545.0 L781.7,547.0 L781.1,549.0 L780.4,551.0 L779.8,553.0 L779.1,555.0 L778.4,557.0 L777.8,559.0 L777.1,561.0 L776.4,563.0 L775.7,565.0 L775.1,567.0 L774.4,569.0 L773.7,571.0 L773.0,573.0 L772.4,575.0 L771.7,577.0 L771.0,579.0 L770.3,581.0 L769.6,583.0 L768.9,585.0 L768.2,587.0 L767.6,589.0 L766.9,591.0 L766.2,593.0 L765.5,595.0 L764.8,597.0 L764.1,599.0 L763.4,601.0 L762.7,603.0 L762.0,605.0 L761.3,607.0 L760.6,609.0 L759.9,611.0 L759.2,613.0 L758.4,615.0 L757.7,617.0 L757.0,619.0 L756.3,621.0 L755.6,623.0 L754.9,625.0 L754.1,627.0 L753.4,629.0 L752.7,631.0 L751.9,633.0 L751.2,635.0 L750.5,637.0 L749.7,639.0 L749.0,641.0 L748.2,643.0 L747.5,645.0 L746.7,647.0 L746.0,649.0 L745.2,651.0 L744.4,653.0 L743.7,655.0 L742.9,657.0 L742.1,659.0 L741.3,661.0 L740.5,663.0 L739.7,665.0 L738.9,667.0 L738.1,669.0 L737.3,671.0 L736.4,673.0 L735.6,675.0 L734.8,677.0 L733.9,679.0 L733.1,681.0 L732.2,683.0 L731.4,685.0 L730.5,687.0 L729.6,689.0 L728.8,691.0 L727.9,693.0 L727.0,695.0 L726.1,697.0 L725.2,699.0 L724.2,701.0 L723.3,703.0 L722.4,705.0 L721.4,707.0 L720.5,709.0 L719.5,711.0 L718.5,713.0 L717.6,715.0 L716.6,717.0 L715.6,719.0 L714.6,721.0 L713.6,723.0 L712.5,725.0 L711.5,727.0 L710.5,729.0 L709.4,731.0 L708.3,733.0 L707.3,735.0 L706.2,737.0 L705.1,739.0 L704.0,741.0 L702.9,743.0 L701.7,745.0 L700.6,747.0 L699.4,749.0 L698.3,751.0 L697.1,753.0 L695.9,755.0 L694.7,757.0 L693.5,759.0 L692.3,761.0 L691.1,763.0 L689.8,765.0 L688.5,767.0 L687.3,769.0 L686.0,771.0 L684.7,773.0 L683.4,775.0 L682.1,777.0 L680.7,779.0 L679.4,781.0 L678.0,783.0 L676.6,785.0 L675.2,787.0 L673.8,789.0 L672.4,791.0 L671.0,793.0 L669.5,795.0 L668.1,797.0 L666.6,799.0 L665.1,801.0 L663.6,803.0 L662.1,805.0 L660.5,807.0 L659.0,809.0"/>
<path stroke="#884848" d="M237.8,810.5 L246.1,808.5 L254.1,806.5 L261.9,804.5 L269.4,802.5 L276.6,800.5 L283.6,798.5 L290.3,796.5 L296.9,794.5 L303.2,792.5 L309.3,790.5 L315.2,788.5 L320.9,786.5 L326.4,784.5 L331.8,782.5 L337.0,780.5 L342.0,778.5 L346.9,776.5 L351.7,774.5 L356.4,772.5 L360.9,770.5 L365.3,768.5 L369.7,766.5 L373.9,764.5 L378.1,762.5 L382.2,760.5 L386.3,758.5 L390.3,756.5 L394.4,754.5 L398.4,752.6 L402.5,750.6 L406.4,748.6 L410.3,746.6 L414.1,744.6 L417.7,742.6 L421.1,740.6 L424.5,738.6 L427.6,736.6 L430.8,734.6 L433.8,732.6 L436.8,730.6 L439.8,728.6 L442.8,726.6 L445.8,724.6 L448.8,722.6 L451.8,720.6 L454.8,718.6 L457.7,716.6 L460.6,714.6 L463.6,712.6 L466.4,710.6 L469.3,708.6 L472.1,706.6 L474.9,704.6 L477.7,702.6 L480.5,700.6 L483.2,698.6 L485.9,696.6 L488.6,694.6 L491.3,692.6 L493.9,690.6 L496.6,688.6 L499.2,686.6 L501.8,684.6 L504.5,682.6 L507.1,680.6 L509.7,678.6 L512.3,676.6 L514.9,674.6 L517.5,672.6 L520.1,670.6 L522.8,668.6 L525.4,666.6 L528.0,664.6 L530.6,662.6 L533.2,660.6 L535.8,658.6 L538.4,656.6 L540.9,654.6 L543.5,652.6 L546.0,650.6 L548.5,648.6 L550.9,646.6 L553.4,644.6 L555.8,642.6 L558.1,640.6 L560.5,638.6 L562.8,636.7 L565.0,634.7 L567.3,632.7 L569.5,630.7 L571.7,628.7 L573.8,626.7 L575.9,624.7 L578.0,622.7 L580.1,620.7 L582.2,618.7 L584.2,616.7 L586.3,614.7 L588.3,612.7 L590.3,610.7 L592.3,608.7 L594.2,606.7 L596.2,604.7 L598.2,602.7 L600.1,600.7 L602.1,598.7 L604.0,596.7 L605.9,594.7 L607.9,592.7 L609.8,590.7 L611.7,588.7 L613.7,586.7 L615.6,584.7 L617.5,582.7 L619.4,580.7 L621.3,578.7 L623.2,576.7 L625.1,574.7 L627.1,572.7 L628.9,570.7 L630.8,568.7 L632.7,566.7 L634.6,564.7 L636.5,562.7 L638.4,560.7 L640.2,558.7 L642.1,556.7 L644.0,554.7 L645.8,552.7 L647.7,550.7 L649.5,548.7 L651.4,546.7 L653.2,544.7 L655.0,542.7 L656.9,540.7 L658.7,538.7 L660.5,536.7 L662.3,534.7 L664.1,532.7 L665.9,530.7 L667.7,528.7 L669.5,526.7 L671.3,524.7 L673.1,522.7 L674.8,520.8 L676.6,518.8 L678.3,516.8 L680.1,514.8 L681.8,512.8 L683.6,510.8 L685.3,508.8 L687.0,506.8 L688.7,504.8 L690.4,502.8 L692.2,500.8 L693.8,498.8 L695.5,496.8 L697.2,494.8 L698.9,492.8 L700.6,490.8 L702.2,488.8 L703.9,486.8 L705.5,484.8 L707.2,482.8 L708.8,480.8 L710.4,478.8 L712.1,476.8 L713.7,474.8 L715.3,472.8 L716.9,470.8 L718.5,468.8 L720.1,466.8 L721.7,464.8 L723.3,462.8 L724.9,460.8 L726.5,458.8 L728.0,456.8 L729.6,454.8 L731.2,452.8 L732.7,450.8 L734.3,448.8 L735.9,446.8 L737.4,444.8 L738.9,442.8 L740.5,440.8 L742.0,438.8 L743.6,436.8 L745.1,434.8 L746.6,432.8 L748.1,430.8 L749.6,428.8 L751.2,426.8 L752.7,424.8 L754.2,422.8 L755.7,420.8 L757.2,418.8 L758.7,416.8 L760.2,414.8 L761.7,412.8 L763.2,410.8 L764.6,408.8 L766.1,406.9 L767.6,404.9 L769.1,402.9 L770.6,400.9 L772.0,398.9 L773.5,396.9 L775.0,394.9 L776.5,392.9 L777.9,390.9 L779.4,388.9 L780.9,386.9 L782.3,384.9 L783.8,382.9 L785.3,380.9 L786.7,378.9 L788.2,376.9 L789.6,374.9 L791.1,372.9 L792.6,370.9 L794.0,368.9 L795.5,366.9 L796.9,364.9 L798.4,362.9 L799.8,360.9 L801.3,358.9 L802.8,356.9 L804.2,354.9 L805.7,352.9 L807.1,350.9 L808.6,348.9 L810.0,346.9 L811.5,344.9 L813.0,342.9 L814.4,340.9 L815.9,338.9 L817.3,336.9 L818.8,334.9 L820.3,332.9 L821.7,330.9 L823.2,328.9 L824.7,326.9 L826.1,324.9 L827.6,322.9 L829.1,320.9 L830.5,318.9 L832.0,316.9 L833.5,314.9 L835.0,312.9 L836.5,310.9 L837.9,308.9 L839.4,306.9 L840.8,304.9 L842.3,302.9 L843.7,300.9 L845.0,298.9 L846.4,296.9 L847.7,294.9 L849.1,292.9 L850.4,291.0 L851.8,289.0 L853.2,287.0 L854.6,285.0 L856.0,283.0 L857.5,281.0 L859.0,279.0 L860.5,277.0 L862.0,275.0 L863.5,273.0 L865.0,271.0 L866.6,269.0 L868.1,267.0 L869.6,265.0 L871.2,263.0 L872.7,261.0 L874.3,259.0 L875.8,257.0 L877.4,255.0 L878.9,253.0 L880.4,251.0 L881.9,249.0 L883.4,247.0 L884.9,245.0 L886.3,243.0 L887.7,241.0 L889.2,239.0 L890.6,237.0 L891.9,235.0 L893.3,233.0 L894.7,231.0 L896.0,229.0 L897.3,227.0 L898.7,225.0 L900.0,223.0 L901.3,221.0 L902.5,219.0 L903.8,217.0 L905.1,215.0 L906.3,213.0 L907.6,211.0 L908.8,209.0 L910.0,207.0 L911.2,205.0 L912.4,203.0 L913.6,201.0 L914.8,199.0 L916.0,197.0 L917.2,195.0 L918.3,193.0 L919.5,191.0 L920.6,189.0 L921.8,187.0 L923.0,185.0 L924.1,183.0 L925.2,181.0 L926.4,179.0 L927.5,177.0 L928.7,175.1 L929.8,173.1 L930.9,171.1 L932.1,169.1 L933.2,167.1 L934.3,165.1 L935.5,163.1 L936.6,161.1 L937.7,159.1 L938.9,157.1 L940.0,155.1 L941.2,153.1 L942.3,151.1 L943.5,149.1 L944.6,147.1 L945.8,145.1 L947.0,143.1 L948.2,141.1 L949.3,139.1 L950.5,137.1 L951.7,135.1 L952.9,133.1 L954.1,131.1 L955.4,129.1 L956.6,127.1 L957.8,125.1 L959.1,123.1 L960.3,121.1 L961.6,119.1 L961.6,119.1 L978.4,119.1 L978.4,119.1 L978.1,121.1 L977.8,123.1 L977.5,125.1 L977.2,127.1 L976.9,129.1 L976.6,131.1 L976.3,133.1 L976.0,135.1 L975.7,137.1 L975.4,139.0 L975.1,141.0 L974.7,143.0 L974.4,145.0 L974.1,147.0 L973.7,149.0 L973.4,151.0 L973.0,153.0 L972.7,155.0 L972.3,157.0 L972.0,159.0 L971.6,161.0 L971.2,163.0 L970.9,165.0 L970.5,167.0 L970.1,169.0 L969.7,171.0 L969.4,173.0 L969.0,174.9 L968.6,176.9 L968.2,178.9 L967.8,180.9 L967.4,182.9 L967.0,184.9 L966.6,186.9 L966.1,188.9 L965.7,190.9 L965.3,192.9 L964.9,194.9 L964.5,196.9 L964.0,198.9 L963.6,200.9 L963.2,202.9 L962.7,204.9 L962.3,206.9 L961.8,208.9 L961.4,210.8 L960.9,212.8 L960.4,214.8 L960.0,216.8 L959.5,218.8 L959.0,220.8 L958.6,222.8 L958.1,224.8 L957.6,226.8 L957.1,228.8 L956.6,230.8 L956.2,232.8 L955.7,234.8 L955.2,236.8 L954.7,238.8 L954.2,240.8 L953.7,242.8 L953.2,244.8 L952.6,246.7 L952.1,248.7 L951.6,250.7 L951.1,252.7 L950.6,254.7 L950.0,256.7 L949.5,258.7 L949.0,260.7 L948.4,262.7 L947.9,264.7 L947.4,266.7 L946.8,268.7 L946.3,270.7 L945.7,272.7 L945.2,274.7 L944.6,276.7 L944.1,278.7 L943.5,280.7 L942.9,282.6 L942.4,284.6 L941.8,286.6 L941.3,288.6 L940.7,290.6 L940.1,292.6 L939.5,294.6 L939.0,296.6 L938.4,298.6 L937.8,300.6 L937.2,302.6 L936.7,304.6 L936.1,306.6 L935.5,308.6 L934.9,310.6 L934.3,312.6 L933.7,314.6 L933.2,316.6 L932.6,318.6 L932.0,320.5 L931.4,322.5 L930.8,324.5 L930.2,326.5 L929.6,328.5 L929.0,330.5 L928.4,332.5 L927.9,334.5 L927.3,336.5 L926.7,338.5 L926.1,340.5 L925.5,342.5 L924.9,344.5 L924.3,346.5 L923.7,348.5 L923.1,350.5 L922.5,352.5 L921.9,354.5 L921.3,356.4 L920.8,358.4 L920.2,360.4 L919.6,362.4 L919.0,364.4 L918.4,366.4 L917.8,368.4 L917.2,370.4 L916.7,372.4 L916.1,374.4 L915.5,376.4 L914.9,378.4 L914.3,380.4 L913.8,382.4 L913.2,384.4 L912.6,386.4 L912.0,388.4 L911.5,390.4 L910.9,392.3 L910.3,394.3 L909.8,396.3 L909.2,398.3 L908.6,400.3 L908.1,402.3 L907.5,404.3 L907.0,406.3 L906.4,408.3 L905.9,410.3 L905.3,412.3 L904.8,414.3 L904.2,416.3 L903.7,418.3 L903.1,420.3 L902.6,422.3 L902.1,424.3 L901.5,426.3 L901.0,428.2 L900.4,430.2 L899.9,432.2 L899.4,434.2 L898.8,436.2 L898.3,438.2 L897.7,440.2 L897.2,442.2 L896.7,444.2 L896.1,446.2 L895.6,448.2 L895.0,450.2 L894.5,452.2 L893.9,454.2 L893.4,456.2 L892.8,458.2 L892.3,460.2 L891.7,462.2 L891.2,464.1 L890.6,466.1 L890.0,468.1 L889.5,470.1 L888.9,472.1 L888.3,474.1 L887.8,476.1 L887.2,478.1 L886.6,480.1 L886.0,482.1 L885.5,484.1 L884.9,486.1 L884.3,488.1 L883.7,490.1 L883.1,492.1 L882.5,494.1 L881.9,496.1 L881.3,498.1 L880.7,500.1 L880.1,502.0 L879.6,504.0 L878.9,506.0 L878.3,508.0 L877.7,510.0 L877.1,512.0 L876.5,514.0 L875.9,516.0 L875.3,518.0 L874.7,520.0 L874.1,522.0 L873.5,524.0 L872.9,526.0 L872.2,528.0 L871.6,530.0 L871.0,532.0 L870.4,534.0 L869.7,536.0 L869.1,537.9 L868.5,539.9 L867.9,541.9 L867.2,543.9 L866.6,545.9 L866.0,547.9 L865.3,549.9 L864.7,551.9 L864.1,553.9 L863.4,555.9 L862.8,557.9 L862.2,559.9 L861.5,561.9 L860.9,563.9 L860.2,565.9 L859.6,567.9 L858.9,569.9 L858.3,571.9 L857.7,573.8 L857.0,575.8 L856.4,577.8 L855.7,579.8 L855.1,581.8 L854.4,583.8 L853.8,585.8 L853.1,587.8 L852.5,589.8 L851.8,591.8 L851.1,593.8 L850.5,595.8 L849.8,597.8 L849.2,599.8 L848.5,601.8 L847.9,603.8 L847.2,605.8 L846.6,607.8 L845.9,609.7 L845.2,611.7 L844.6,613.7 L843.9,615.7 L843.3,617.7 L842.6,619.7 L841.9,621.7 L841.3,623.7 L840.6,625.7 L839.9,627.7 L839.3,629.7 L838.6,631.7 L837.9,633.7 L837.3,635.7 L836.6,637.7 L835.9,639.7 L835.2,641.7 L834.6,643.7 L833.9,645.7 L833.2,647.6 L832.5,649.6 L831.8,651.6 L831.1,653.6 L830.4,655.6 L829.7,657.6 L829.0,659.6 L828.3,661.6 L827.6,663.6 L826.8,665.6 L826.1,667.6 L825.4,669.6 L824.6,671.6 L823.9,673.6 L823.1,675.6 L822.4,677.6 L821.6,679.6 L820.8,681.6 L820.0,683.5 L819.2,685.5 L818.4,687.5 L817.6,689.5 L816.8,691.5 L816.0,693.5 L815.2,695.5 L814.3,697.5 L813.5,699.5 L812.6,701.5 L811.8,703.5 L810.9,705.5 L810.0,707.5 L809.1,709.5 L808.2,711.5 L807.3,713.5 L806.3,715.5 L805.4,717.5 L804.4,719.4 L803.5,721.4 L802.5,723.4 L801.5,725.4 L800.5,727.4 L799.5,729.4 L798.5,731.4 L797.4,733.4 L796.4,735.4 L795.3,737.4 L794.3,739.4 L793.2,741.4 L792.1,743.4 L790.9,745.4 L789.8,747.4 L788.7,749.4 L787.5,751.4 L786.3,753.4 L785.1,755.3 L783.9,757.3 L782.7,759.3 L781.5,761.3 L780.2,763.3 L778.9,765.3 L777.7,767.3 L776.4,769.3 L775.0,771.3 L773.7,773.3 L772.4,775.3 L771.0,777.3 L769.6,779.3 L768.2,781.3 L766.8,783.3 L765.3,785.3 L763.9,787.3 L762.4,789.3 L760.9,791.2 L759.4,793.2 L757.9,795.2 L756.3,797.2 L754.8,799.2 L753.2,801.2 L751.6,803.2 L750.0,805.2 L748.4,807.2 L746.7,809.2"/>
<path stroke="#8a8a00" d="M254.7,810.5 L263.4,808.5 L271.3,806.5 L278.6,804.5 L285.3,802.5 L291.5,800.5 L297.3,798.5 L302.8,796.5 L308.1,794.5 L313.3,792.5 L318.5,790.5 L323.8,788.5 L329.1,786.5 L334.5,784.5 L340.0,782.5 L345.3,780.5 L350.6,778.5 L355.8,776.5 L360.8,774.5 L365.6,772.5 L370.2,770.5 L374.5,768.5 L378.5,766.5 L382.1,764.5 L385.6,762.5 L388.9,760.5 L392.4,758.5 L396.1,756.5 L400.1,754.5 L404.5,752.6 L409.1,750.6 L413.6,748.6 L418.0,746.6 L422.0,744.6 L425.7,742.6 L429.1,740.6 L432.3,738.6 L435.3,736.6 L438.2,734.6 L441.0,732.6 L443.8,730.6 L446.6,728.6 L449.4,726.6 L452.3,724.6 L455.1,722.6 L458.0,720.6 L460.9,718.6 L463.7,716.6 L466.6,714.6 L469.5,712.6 L472.5,710.6 L475.4,708.6 L478.3,706.6 L481.2,704.6 L484.1,702.6 L487.0,700.6 L489.9,698.6 L492.8,696.6 L495.7,694.6 L498.6,692.6 L501.5,690.6 L504.3,688.6 L507.2,686.6 L510.0,684.6 L512.8,682.6 L515.6,680.6 L518.4,678.6 L521.2,676.6 L524.0,674.6 L526.8,672.6 L529.5,670.6 L532.3,668.6 L535.0,666.6 L537.7,664.6 L540.4,662.6 L543.1,660.6 L545.8,658.6 L548.5,656.6 L551.1,654.6 L553.7,652.6 L556.4,650.6 L559.0,648.6 L561.6,646.6 L564.2,644.6 L566.7,642.6 L569.3,640.6 L571.8,638.6 L574.4,636.7 L576.9,634.7 L579.4,632.7 L581.8,630.7 L584.3,628.7 L586.8,626.7 L589.2,624.7 L591.6,622.7 L594.0,620.7 L596.4,618.7 L598.8,616.7 L601.1,614.7 L603.4,612.7 L605.8,610.7 L608.1,608.7 L610.3,606.7 L612.6,604.7 L614.9,602.7 L617.1,600.7 L619.3,598.7 L621.5,596.7 L623.7,594.7 L625.9,592.7 L628.1,590.7 L630.2,588.7 L632.4,586.7 L634.5,584.7 L636.6,582.7 L638.7,580.7 L640.8,578.7 L642.9,576.7 L645.0,574.7 L647.0,572.7 L649.1,570.7 L651.1,568.7 L653.2,566.7 L655.2,564.7 L657.2,562.7 L659.2,560.7 L661.2,558.7 L663.2,556.7 L665.2,554.7 L667.2,552.7 L669.2,550.7 L671.2,548.7 L673.1,546.7 L675.1,544.7 L677.0,542.7 L679.0,540.7 L680.9,538.7 L682.9,536.7 L684.8,534.7 L686.8,532.7 L688.7,530.7 L690.6,528.7 L692.6,526.7 L694.5,524.7 L696.4,522.7 L698.4,520.8 L700.3,518.8 L702.2,516.8 L704.1,514.8 L706.1,512.8 L708.0,510.8 L709.9,508.8 L711.9,506.8 L713.8,504.8 L715.7,502.8 L717.7,500.8 L719.6,498.8 L721.6,496.8 L723.5,494.8 L725.5,492.8 L727.4,490.8 L729.3,488.8 L731.3,486.8 L733.2,484.8 L735.2,482.8 L737.1,480.8 L739.0,478.8 L741.0,476.8 L742.9,474.8 L744.8,472.8 L746.7,470.8 L748.7,468.8 L750.6,466.8 L752.5,464.8 L754.4,462.8 L756.3,460.8 L758.2,458.8 L760.1,456.8 L762.0,454.8 L763.8,452.8 L765.7,450.8 L767.6,448.8 L769.4,446.8 L771.2,444.8 L773.1,442.8 L774.9,440.8 L776.7,438.8 L778.5,436.8 L780.3,434.8 L782.1,432.8 L783.9,430.8 L785.7,428.8 L787.4,426.8 L789.2,424.8 L790.9,422.8 L792.6,420.8 L794.3,418.8 L796.0,416.8 L797.7,414.8 L799.4,412.8 L801.1,410.8 L802.8,408.8 L804.5,406.9 L806.1,404.9 L807.8,402.9 L809.4,400.9 L811.0,398.9 L812.7,396.9 L814.3,394.9 L815.9,392.9 L817.5,390.9 L819.1,388.9 L820.7,386.9 L822.2,384.9 L823.8,382.9 L825.4,380.9 L826.9,378.9 L828.5,376.9 L830.0,374.9 L831.5,372.9 L833.1,370.9 L834.6,368.9 L836.1,366.9 L837.6,364.9 L839.1,362.9 L840.6,360.9 L842.1,358.9 L843.6,356.9 L845.0,354.9 L846.5,352.9 L848.0,350.9 L849.4,348.9 L850.9,346.9 L852.3,344.9 L853.8,342.9 L855.2,340.9 L856.7,338.9 L858.1,336.9 L859.5,334.9 L861.0,332.9 L862.4,330.9 L863.8,328.9 L865.2,326.9 L866.7,324.9 L868.1,322.9 L869.5,320.9 L870.9,318.9 L872.3,316.9 L873.7,314.9 L875.1,312.9 L876.5,310.9 L877.9,308.9 L879.4,306.9 L880.8,304.9 L882.2,302.9 L883.6,300.9 L885.0,298.9 L886.4,296.9 L887.8,294.9 L889.2,292.9 L890.6,291.0 L892.1,289.0 L893.5,287.0 L894.9,285.0 L896.3,283.0 L897.7,281.0 L899.2,279.0 L900.6,277.0 L902.0,275.0 L903.5,273.0 L904.9,271.0 L906.4,269.0 L907.8,267.0 L909.2,265.0 L910.7,263.0 L912.1,261.0 L913.6,259.0 L915.0,257.0 L916.5,255.0 L917.9,253.0 L919.4,251.0 L920.9,249.0 L922.3,247.0 L923.8,245.0 L925.2,243.0 L926.7,241.0 L928.1,239.0 L929.6,237.0 L931.0,235.0 L932.5,233.0 L933.9,231.0 L935.3,229.0 L936.8,227.0 L938.2,225.0 L939.7,223.0 L941.1,221.0 L942.5,219.0 L943.9,217.0 L945.4,215.0 L946.8,213.0 L948.2,211.0 L949.6,209.0 L951.0,207.0 L952.4,205.0 L953.8,203.0 L955.2,201.0 L956.6,199.0 L958.0,197.0 L959.4,195.0 L960.7,193.0 L962.1,191.0 L963.5,189.0 L964.8,187.0 L966.2,185.0 L967.5,183.0 L968.9,181.0 L970.2,179.0 L971.5,177.0 L972.8,175.1 L974.1,173.1 L975.4,171.1 L976.7,169.1 L978.0,167.1 L979.3,165.1 L980.5,163.1 L981.8,161.1 L983.0,159.1 L984.3,157.1 L985.5,155.1 L986.7,153.1 L987.9,151.1 L989.1,149.1 L990.3,147.1 L991.5,145.1 L992.7,143.1 L993.8,141.1 L995.0,139.1 L996.1,137.1 L997.2,135.1 L998.4,133.1 L999.5,131.1 L1000.5,129.1 L1001.6,127.1 L1002.7,125.1 L1003.7,123.1 L1004.8,121.1 L1005.8,119.1 L1005.8,119.1 L1028.0,119.1 L1028.0,119.1 L1027.7,121.1 L1027.4,123.1 L1027.1,125.1 L1026.8,127.1 L1026.5,129.1 L1026.2,131.1 L1025.8,133.1 L1025.5,135.1 L1025.1,137.1 L1024.8,139.0 L1024.5,141.0 L1024.1,143.0 L1023.7,145.0 L1023.4,147.0 L1023.0,149.0 L1022.6,151.0 L1022.3,153.0 L1021.9,155.0 L1021.5,157.0 L1021.1,159.0 L1020.7,161.0 L1020.3,163.0 L1019.9,165.0 L1019.5,167.0 L1019.1,169.0 L1018.7,171.0 L1018.3,173.0 L1017.9,174.9 L1017.5,176.9 L1017.1,178.9 L1016.6,180.9 L1016.2,182.9 L1015.8,184.9 L1015.3,186.9 L1014.9,188.9 L1014.5,190.9 L1014.0,192.9 L1013.6,194.9 L1013.1,196.9 L1012.7,198.9 L1012.2,200.9 L1011.8,202.9 L1011.3,204.9 L1010.9,206.9 L1010.4,208.9 L1009.9,210.8 L1009.5,212.8 L1009.0,214.8 L1008.5,216.8 L1008.1,218.8 L1007.6,220.8 L1007.1,222.8 L1006.7,224.8 L1006.2,226.8 L1005.7,228.8 L1005.2,230.8 L1004.7,232.8 L1004.3,234.8 L1003.8,236.8 L1003.3,238.8 L1002.8,240.8 L1002.3,242.8 L1001.8,244.8 L1001.3,246.7 L1000.9,248.7 L1000.4,250.7 L999.9,252.7 L999.4,254.7 L998.9,256.7 L998.4,258.7 L997.9,260.7 L997.4,262.7 L996.9,264.7 L996.4,266.7 L995.9,268.7 L995.4,270.7 L995.0,272.7 L994.5,274.7 L994.0,276.7 L993.5,278.7 L993.0,280.7 L992.5,282.6 L992.0,284.6 L991.5,286.6 L991.0,288.6 L990.5,290.6 L990.0,292.6 L989.5,294.6 L989.0,296.6 L988.5,298.6 L988.0,300.6 L987.5,302.6 L987.0,304.6 L986.5,306.6 L986.0,308.6 L985.5,310.6 L985.0,312.6 L984.5,314.6 L984.0,316.6 L983.5,318.6 L983.0,320.5 L982.5,322.5 L982.0,324.5 L981.5,326.5 L981.0,328.5 L980.5,330.5 L980.0,332.5 L979.5,334.5 L979.0,336.5 L978.5,338.5 L978.0,340.5 L977.5,342.5 L977.0,344.5 L976.5,346.5 L976.0,348.5 L975.5,350.5 L975.0,352.5 L974.5,354.5 L974.0,356.4 L973.5,358.4 L973.0,360.4 L972.4,362.4 L971.9,364.4 L971.4,366.4 L970.9,368.4 L970.4,370.4 L969.9,372.4 L969.4,374.4 L968.9,376.4 L968.3,378.4 L967.8,380.4 L967.3,382.4 L966.8,384.4 L966.3,386.4 L965.8,388.4 L965.2,390.4 L964.7,392.3 L964.2,394.3 L963.7,396.3 L963.2,398.3 L962.6,400.3 L962.1,402.3 L961.6,404.3 L961.1,406.3 L960.5,408.3 L960.0,410.3 L959.5,412.3 L959.0,414.3 L958.4,416.3 L957.9,418.3 L957.4,420.3 L956.9,422.3 L956.3,424.3 L955.8,426.3 L955.3,428.2 L954.7,430.2 L954.2,432.2 L953.7,434.2 L953.1,436.2 L952.6,438.2 L952.0,440.2 L951.5,442.2 L951.0,444.2 L950.4,446.2 L949.9,448.2 L949.3,450.2 L948.8,452.2 L948.2,454.2 L947.7,456.2 L947.2,458.2 L946.6,460.2 L946.1,462.2 L945.5,464.1 L945.0,466.1 L944.4,468.1 L943.8,470.1 L943.3,472.1 L942.7,474.1 L942.2,476.1 L941.6,478.1 L941.1,480.1 L940.5,482.1 L939.9,484.1 L939.4,486.1 L938.8,488.1 L938.2,490.1 L937.7,492.1 L937.1,494.1 L936.5,496.1 L936.0,498.1 L935.4,500.1 L934.8,502.0 L934.3,504.0 L933.7,506.0 L933.1,508.0 L932.5,510.0 L931.9,512.0 L931.4,514.0 L930.8,516.0 L930.2,518.0 L929.6,520.0 L929.0,522.0 L928.4,524.0 L927.8,526.0 L927.2,528.0 L926.7,530.0 L926.1,532.0 L925.5,534.0 L924.9,536.0 L924.3,537.9 L923.7,539.9 L923.1,541.9 L922.5,543.9 L921.9,545.9 L921.3,547.9 L920.6,549.9 L920.0,551.9 L919.4,553.9 L918.8,555.9 L918.2,557.9 L917.6,559.9 L917.0,561.9 L916.3,563.9 L915.7,565.9 L915.1,567.9 L914.5,569.9 L913.8,571.9 L913.2,573.8 L912.6,575.8 L911.9,577.8 L911.3,579.8 L910.7,581.8 L910.0,583.8 L909.4,585.8 L908.8,587.8 L908.1,589.8 L907.5,591.8 L906.8,593.8 L906.2,595.8 L905.5,597.8 L904.9,599.8 L904.2,601.8 L903.5,603.8 L902.9,605.8 L902.2,607.8 L901.5,609.7 L900.9,611.7 L900.2,613.7 L899.5,615.7 L898.8,617.7 L898.1,619.7 L897.4,621.7 L896.7,623.7 L896.0,625.7 L895.3,627.7 L894.6,629.7 L893.9,631.7 L893.2,633.7 L892.5,635.7 L891.8,637.7 L891.0,639.7 L890.3,641.7 L889.6,643.7 L888.8,645.7 L888.1,647.6 L887.3,649.6 L886.6,651.6 L885.8,653.6 L885.0,655.6 L884.2,657.6 L883.5,659.6 L882.7,661.6 L881.9,663.6 L881.1,665.6 L880.3,667.6 L879.5,669.6 L878.7,671.6 L877.9,673.6 L877.0,675.6 L876.2,677.6 L875.4,679.6 L874.5,681.6 L873.7,683.5 L872.8,685.5 L872.0,687.5 L871.1,689.5 L870.2,691.5 L869.3,693.5 L868.4,695.5 L867.5,697.5 L866.6,699.5 L865.7,701.5 L864.8,703.5 L863.9,705.5 L862.9,707.5 L862.0,709.5 L861.0,711.5 L860.1,713.5 L859.1,715.5 L858.1,717.5 L857.2,719.4 L856.2,721.4 L855.2,723.4 L854.2,725.4 L853.2,727.4 L852.1,729.4 L851.1,731.4 L850.1,733.4 L849.0,735.4 L847.9,737.4 L846.9,739.4 L845.8,741.4 L844.7,743.4 L843.6,745.4 L842.5,747.4 L841.4,749.4 L840.3,751.4 L839.1,753.4 L838.0,755.3 L836.8,757.3 L835.7,759.3 L834.5,761.3 L833.3,763.3 L832.1,765.3 L830.9,767.3 L829.7,769.3 L828.5,771.3 L827.3,773.3 L826.0,775.3 L824.8,777.3 L823.5,779.3 L822.2,781.3 L820.9,783.3 L819.6,785.3 L818.3,787.3 L817.0,789.3 L815.7,791.2 L814.3,793.2 L813.0,795.2 L811.6,797.2 L810.2,799.2 L808.8,801.2 L807.4,803.2 L806.0,805.2 L804.6,807.2 L803.1,809.2"/>
</g>
<g stroke="#000" fill="none" stroke-linecap="butt">
<path stroke-width="3.7" d="M119.0,46.9 V899.1"/>
<path stroke-width="3.2" d="M117.15,897.5 H1174.2"/>
<path stroke-width="3.4" d="M110.5,897.0 H119.0"/>
<path stroke-width="3.4" d="M102.0,826.3 H119.0"/>
<path stroke-width="3.4" d="M110.5,755.6 H119.0"/>
<path stroke-width="3.4" d="M102.0,684.9 H119.0"/>
<path stroke-width="3.4" d="M110.5,614.2 H119.0"/>
<path stroke-width="3.4" d="M102.0,543.5 H119.0"/>
<path stroke-width="3.4" d="M110.5,472.8 H119.0"/>
<path stroke-width="3.4" d="M102.0,402.1 H119.0"/>
<path stroke-width="3.4" d="M110.5,331.4 H119.0"/>
<path stroke-width="3.4" d="M102.0,260.7 H119.0"/>
<path stroke-width="3.4" d="M110.5,190.0 H119.0"/>
<path stroke-width="3.4" d="M102.0,119.3 H119.0"/>
<path stroke-width="3.4" d="M110.5,48.6 H119.0"/>
<path stroke-width="3.5" d="M119.0,897.5 V913.8"/>
<path stroke-width="3.5" d="M214.8,897.5 V905.2"/>
<path stroke-width="3.5" d="M310.5,897.5 V913.8"/>
<path stroke-width="3.5" d="M406.2,897.5 V905.2"/>
<path stroke-width="3.5" d="M502.0,897.5 V913.8"/>
<path stroke-width="3.5" d="M597.8,897.5 V905.2"/>
<path stroke-width="3.5" d="M693.5,897.5 V913.8"/>
<path stroke-width="3.5" d="M789.2,897.5 V905.2"/>
<path stroke-width="3.5" d="M885.0,897.5 V913.8"/>
<path stroke-width="3.5" d="M980.8,897.5 V905.2"/>
<path stroke-width="3.5" d="M1076.5,897.5 V913.8"/>
<path stroke-width="3.5" d="M1172.2,897.5 V905.2"/>
</g>
<g font-family="Liberation Sans, sans-serif" fill="#000">
<g transform="translate(90.30,837.20) scale(1,1.02)"><text x="-20.02" font-size="36">0</text></g>
<g transform="translate(90.30,695.80) scale(1,1.02)"><text x="-20.02" font-size="36">&#8199;</text><path transform="translate(-20.02,0) scale(0.017578,-0.017578)" d="M763,0 L583,0 L583,1147 Q518,1085 412.5,1023 Q307,961 223,930 L223,1104 Q374,1175 492.5,1281 Q611,1387 652,1466 L763,1466 Z"/></g>
<g transform="translate(90.30,554.40) scale(1,1.02)"><text x="-20.02" font-size="36">2</text></g>
<g transform="translate(90.30,413.00) scale(1,1.02)"><text x="-20.02" font-size="36">3</text></g>
<g transform="translate(90.30,271.60) scale(1,1.02)"><text x="-20.02" font-size="36">4</text></g>
<g transform="translate(90.30,130.20) scale(1,1.02)"><text x="-20.02" font-size="36">5</text></g>
<g transform="translate(119.00,954.40) scale(1,1.02)"><text x="-35.03" font-size="36">0.00</text></g>
<g transform="translate(310.50,954.40) scale(1,1.02)"><text x="-35.03" font-size="36">0.05</text></g>
<g transform="translate(502.00,954.40) scale(1,1.02)"><text x="-35.03" font-size="36">0.&#8199;0</text><path transform="translate(-5.01,0) scale(0.017578,-0.017578)" d="M763,0 L583,0 L583,1147 Q518,1085 412.5,1023 Q307,961 223,930 L223,1104 Q374,1175 492.5,1281 Q611,1387 652,1466 L763,1466 Z"/></g>
<g transform="translate(693.50,954.40) scale(1,1.02)"><text x="-35.03" font-size="36">0.&#8199;5</text><path transform="translate(-5.01,0) scale(0.017578,-0.017578)" d="M763,0 L583,0 L583,1147 Q518,1085 412.5,1023 Q307,961 223,930 L223,1104 Q374,1175 492.5,1281 Q611,1387 652,1466 L763,1466 Z"/></g>
<g transform="translate(885.00,954.40) scale(1,1.02)"><text x="-35.03" font-size="36">0.20</text></g>
<g transform="translate(1076.50,954.40) scale(1,1.02)"><text x="-35.03" font-size="36">0.25</text></g>
<g transform="translate(646.00,1017.80) scale(1,1.055)"><text x="-100.03" font-size="40">Depth (um)</text></g>
<g transform="translate(46.20,462.80) rotate(-90) scale(1,1.055)"><text x="-94.47" font-size="40">Load (mN)</text></g>
</g>
<rect x="1126.2" y="23.2" width="152.6" height="269" fill="none" stroke="#4c4c4c" stroke-width="1.35"/>
<g stroke-width="4.3" stroke-linecap="round">
<path stroke="#4f4f4f" d="M1130.2,39.7 H1183.2"/>
<path stroke="#f83a3a" d="M1130.2,69.2 H1183.2"/>
<path stroke="#0d62dc" d="M1130.2,98.8 H1183.2"/>
<path stroke="#00a862" d="M1130.2,128.4 H1183.2"/>
<path stroke="#c06ee0" d="M1130.2,157.9 H1183.2"/>
<path stroke="#e0a000" d="M1130.2,187.4 H1183.2"/>
<path stroke="#00cccc" d="M1130.2,217.0 H1183.2"/>
<path stroke="#884848" d="M1130.2,246.6 H1183.2"/>
<path stroke="#8a8a00" d="M1130.2,276.1 H1183.2"/>
</g>
<g font-family="Liberation Sans, sans-serif" fill="#000">
<g transform="translate(1190.60,47.80) scale(1,1.05)"><text x="0.00" font-size="24">Ti/TiN-&#8199;</text><path transform="translate(71.98,0) scale(0.011719,-0.011719)" d="M763,0 L583,0 L583,1147 Q518,1085 412.5,1023 Q307,961 223,930 L223,1104 Q374,1175 492.5,1281 Q611,1387 652,1466 L763,1466 Z"/></g>
<g transform="translate(1190.60,77.35) scale(1,1.05)"><text x="0.00" font-size="24">Ti/TiN-2</text></g>
<g transform="translate(1190.60,106.90) scale(1,1.05)"><text x="0.00" font-size="24">Ti/TiN-3</text></g>
<g transform="translate(1190.60,136.45) scale(1,1.05)"><text x="0.00" font-size="24">Ti/TiN-4</text></g>
<g transform="translate(1190.60,166.00) scale(1,1.05)"><text x="0.00" font-size="24">Ti/TiN-5</text></g>
<g transform="translate(1190.60,195.55) scale(1,1.05)"><text x="0.00" font-size="24">Ti/TiN-6</text></g>
<g transform="translate(1190.60,225.10) scale(1,1.05)"><text x="0.00" font-size="24">Ti/TiN-7</text></g>
<g transform="translate(1190.60,254.65) scale(1,1.05)"><text x="0.00" font-size="24">Ti/TiN-8</text></g>
<g transform="translate(1190.60,284.20) scale(1,1.05)"><text x="0.00" font-size="24">Ti/TiN-9</text></g>
</g>
</svg>
</body></html>
